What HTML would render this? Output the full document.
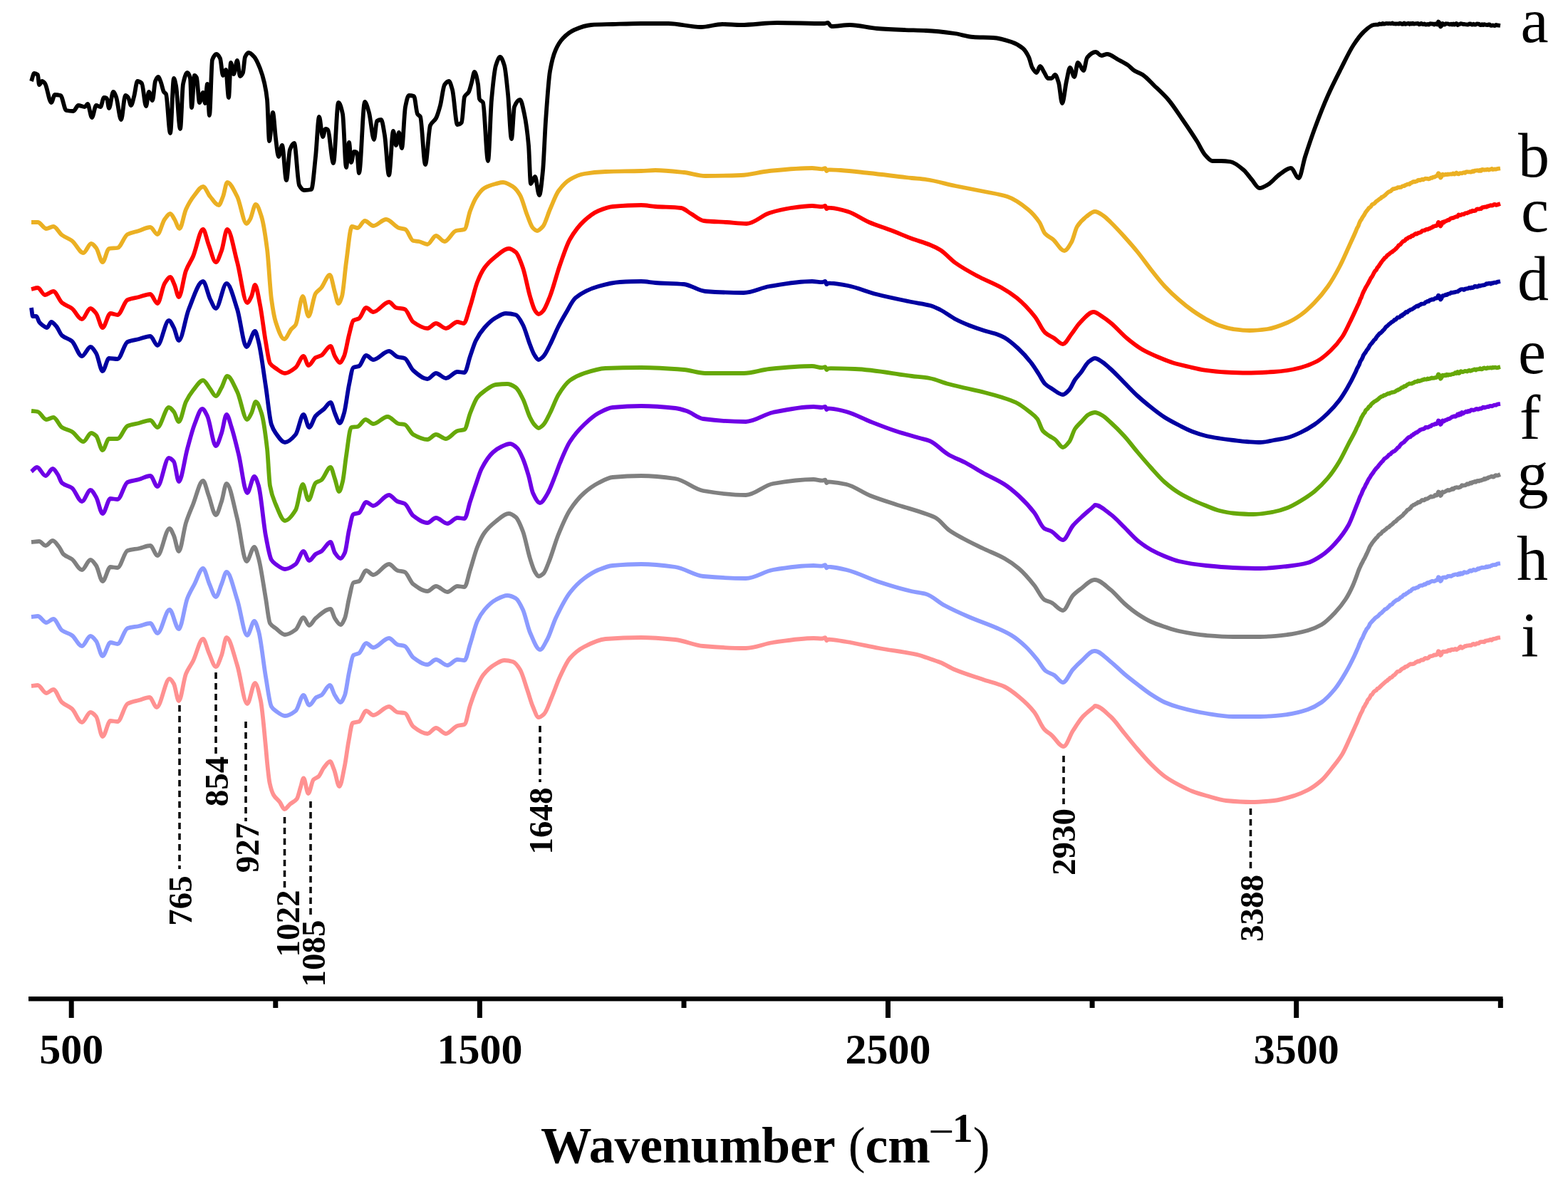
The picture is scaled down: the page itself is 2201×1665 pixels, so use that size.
<!DOCTYPE html>
<html><head><meta charset="utf-8"><title>FTIR spectra</title>
<style>
html,body{margin:0;padding:0;background:#fff;}
body{width:2201px;height:1665px;overflow:hidden;}
svg{display:block;}
text{font-family:"Liberation Serif","Times New Roman",serif;fill:#000;}
</style></head>
<body>
<svg width="2201" height="1665" viewBox="0 0 2201 1665">
<rect width="2201" height="1665" fill="#fff"/>
<g fill="none" stroke-width="5.8" stroke-linejoin="round" stroke-linecap="butt">
<path d="M44.0 114.0C45.3 110.3 46.7 103.0 48.0 103.0C49.7 103.0 51.3 103.6 53.0 105.0C53.7 105.6 54.3 119.0 55.0 119.0C56.3 119.0 57.7 114.0 59.0 114.0C60.3 114.0 61.7 115.5 63.0 117.0C66.0 120.3 69.0 144.0 72.0 144.0C73.7 144.0 75.3 133.0 77.0 133.0C79.7 133.0 82.3 133.4 85.0 134.0C87.7 134.6 90.3 154.5 93.0 155.0C96.3 155.7 99.7 156.0 103.0 156.0C105.3 156.0 107.7 148.0 110.0 148.0C113.0 148.0 116.0 150.0 119.0 150.0C120.3 150.0 121.7 146.0 123.0 146.0C125.0 146.0 127.0 165.0 129.0 165.0C131.0 165.0 133.0 148.0 135.0 148.0C137.0 148.0 139.0 150.0 141.0 150.0C142.7 150.0 144.3 137.0 146.0 137.0C147.3 137.0 148.7 137.3 150.0 138.0C151.0 138.5 152.0 152.0 153.0 152.0C155.0 152.0 157.0 129.0 159.0 129.0C160.3 129.0 161.7 132.8 163.0 136.0C165.3 141.7 167.7 168.0 170.0 168.0C172.0 168.0 174.0 134.0 176.0 134.0C177.3 134.0 178.7 135.4 180.0 137.0C181.3 138.6 182.7 148.0 184.0 148.0C185.3 148.0 186.7 140.7 188.0 136.0C189.7 130.1 191.3 114.0 193.0 114.0C195.0 114.0 197.0 115.2 199.0 117.0C201.0 118.8 203.0 149.0 205.0 149.0C206.3 149.0 207.7 129.0 209.0 129.0C210.7 129.0 212.3 141.0 214.0 141.0C215.3 141.0 216.7 117.3 218.0 114.0C219.3 110.7 220.7 108.0 222.0 108.0C223.3 108.0 224.7 112.7 226.0 116.0C227.3 119.3 228.7 127.0 230.0 129.0C231.0 130.5 232.0 130.3 233.0 132.0C235.0 135.3 237.0 187.0 239.0 187.0C240.7 187.0 242.3 110.0 244.0 110.0C245.0 110.0 246.0 115.2 247.0 120.0C249.0 129.5 251.0 181.0 253.0 181.0C254.3 181.0 255.7 124.4 257.0 118.0C259.0 108.4 261.0 102.0 263.0 102.0C264.3 102.0 265.7 104.7 267.0 110.0C267.7 112.7 268.3 151.0 269.0 151.0C270.3 151.0 271.7 106.0 273.0 106.0C274.0 106.0 275.0 107.3 276.0 109.0C277.3 111.3 278.7 144.0 280.0 144.0C281.7 144.0 283.3 130.0 285.0 130.0C286.0 130.0 287.0 145.0 288.0 145.0C289.0 145.0 290.0 118.0 291.0 118.0C292.0 118.0 293.0 162.0 294.0 162.0C295.3 162.0 296.7 87.5 298.0 84.0C300.0 78.7 302.0 76.0 304.0 76.0C305.7 76.0 307.3 78.6 309.0 82.0C310.3 84.7 311.7 106.0 313.0 106.0C314.3 106.0 315.7 98.0 317.0 98.0C318.3 98.0 319.7 137.0 321.0 137.0C322.0 137.0 323.0 88.0 324.0 88.0C325.3 88.0 326.7 104.0 328.0 104.0C329.7 104.0 331.3 85.0 333.0 85.0C334.3 85.0 335.7 107.0 337.0 107.0C338.3 107.0 339.7 104.9 341.0 102.0C342.0 99.8 343.0 82.2 344.0 80.0C345.7 76.3 347.3 74.0 349.0 74.0C351.7 74.0 354.3 77.1 357.0 80.0C359.7 82.9 362.3 89.3 365.0 96.0C367.0 101.1 369.0 107.3 371.0 116.0C372.3 121.8 373.7 127.5 375.0 140.0C376.0 149.4 377.0 198.0 378.0 198.0C379.7 198.0 381.3 158.0 383.0 158.0C384.3 158.0 385.7 183.9 387.0 194.0C388.3 204.1 389.7 220.0 391.0 220.0C392.7 220.0 394.3 204.0 396.0 204.0C398.0 204.0 400.0 253.0 402.0 253.0C403.7 253.0 405.3 214.4 407.0 210.0C409.0 204.8 411.0 201.0 413.0 201.0C415.3 201.0 417.7 255.8 420.0 260.0C422.3 264.2 424.7 267.0 427.0 267.0C430.3 267.0 433.7 266.7 437.0 266.0C439.0 265.6 441.0 238.3 443.0 220.0C444.7 204.7 446.3 164.0 448.0 164.0C449.7 164.0 451.3 192.0 453.0 192.0C454.3 192.0 455.7 181.0 457.0 181.0C458.0 181.0 459.0 181.4 460.0 182.0C462.7 183.5 465.3 229.0 468.0 229.0C470.3 229.0 472.7 144.0 475.0 144.0C477.0 144.0 479.0 150.7 481.0 160.0C482.7 167.7 484.3 235.0 486.0 235.0C487.3 235.0 488.7 200.0 490.0 200.0C491.0 200.0 492.0 228.0 493.0 228.0C494.3 228.0 495.7 213.0 497.0 213.0C498.3 213.0 499.7 213.3 501.0 214.0C502.0 214.5 503.0 243.0 504.0 243.0C506.7 243.0 509.3 143.0 512.0 143.0C514.0 143.0 516.0 151.2 518.0 158.0C520.3 165.9 522.7 196.0 525.0 196.0C526.3 196.0 527.7 170.9 529.0 170.0C531.0 168.7 533.0 168.0 535.0 168.0C536.7 168.0 538.3 180.1 540.0 190.0C542.0 201.8 544.0 246.0 546.0 246.0C548.0 246.0 550.0 184.0 552.0 184.0C553.3 184.0 554.7 204.0 556.0 204.0C557.3 204.0 558.7 186.0 560.0 186.0C561.3 186.0 562.7 208.0 564.0 208.0C565.7 208.0 567.3 158.4 569.0 150.0C570.7 141.6 572.3 134.0 574.0 134.0C576.3 134.0 578.7 134.3 581.0 135.0C582.7 135.5 584.3 157.3 586.0 160.0C587.3 162.2 588.7 161.8 590.0 164.0C592.3 167.9 594.7 231.0 597.0 231.0C599.3 231.0 601.7 181.1 604.0 176.0C606.7 170.2 609.3 170.8 612.0 166.0C614.0 162.4 616.0 155.4 618.0 148.0C620.0 140.6 622.0 121.8 624.0 119.0C626.0 116.2 628.0 114.0 630.0 114.0C631.7 114.0 633.3 120.2 635.0 126.0C637.3 134.1 639.7 175.0 642.0 175.0C644.0 175.0 646.0 174.0 648.0 172.0C649.3 170.7 650.7 138.9 652.0 136.0C654.0 131.6 656.0 132.5 658.0 129.0C659.3 126.6 660.7 120.6 662.0 116.0C663.3 111.4 664.7 101.0 666.0 101.0C667.7 101.0 669.3 108.8 671.0 118.0C671.7 121.7 672.3 137.6 673.0 139.0C674.7 142.5 676.3 141.1 678.0 144.0C680.3 148.1 682.7 226.0 685.0 226.0C686.7 226.0 688.3 158.4 690.0 140.0C692.0 117.9 694.0 98.4 696.0 92.0C698.0 85.6 700.0 80.0 702.0 80.0C704.0 80.0 706.0 85.5 708.0 92.0C709.7 97.4 711.3 115.7 713.0 132.0C714.7 148.3 716.3 195.0 718.0 195.0C719.3 195.0 720.7 153.3 722.0 150.0C724.7 143.4 727.3 140.0 730.0 140.0C732.0 140.0 734.0 150.8 736.0 160.0C738.0 169.2 740.0 182.1 742.0 204.0C743.0 214.9 744.0 258.0 745.0 258.0C747.0 258.0 749.0 248.0 751.0 248.0C753.0 248.0 755.0 274.0 757.0 274.0C758.7 274.0 760.3 256.6 762.0 240.0C763.3 226.7 764.7 188.9 766.0 170.0C768.0 141.6 770.0 111.6 772.0 100.0C774.7 84.5 777.3 76.1 780.0 70.0C783.3 62.4 786.7 57.5 790.0 54.0C795.3 48.4 800.7 44.3 806.0 42.0C814.0 38.5 822.0 35.5 830.0 35.0C840.0 34.4 850.0 34.3 860.0 34.0C873.3 33.6 886.7 33.0 900.0 33.0C912.7 33.0 925.3 33.0 938.0 33.0C953.3 33.0 968.7 38.0 984.0 38.0C994.0 38.0 1004.0 34.0 1014.0 34.0C1022.7 34.0 1031.3 35.0 1040.0 35.0C1057.0 35.0 1074.0 32.0 1091.0 32.0C1113.0 32.0 1135.0 33.0 1157.0 33.0C1158.7 33.0 1160.3 32.0 1162.0 32.0C1163.7 32.0 1165.3 37.0 1167.0 37.0C1175.7 37.0 1184.3 35.0 1193.0 35.0C1205.7 35.0 1218.3 39.0 1231.0 40.0C1243.7 41.0 1256.3 41.5 1269.0 42.0C1279.3 42.4 1289.7 42.5 1300.0 43.0C1313.3 43.6 1326.7 45.2 1340.0 47.0C1348.7 48.2 1357.3 51.5 1366.0 52.0C1375.3 52.6 1384.7 52.4 1394.0 53.0C1402.7 53.5 1411.3 56.1 1420.0 59.0C1425.3 60.8 1430.7 63.4 1436.0 68.0C1438.7 70.3 1441.3 74.5 1444.0 80.0C1445.7 83.4 1447.3 92.2 1449.0 95.0C1451.0 98.4 1453.0 102.0 1455.0 102.0C1456.7 102.0 1458.3 93.0 1460.0 93.0C1462.0 93.0 1464.0 98.9 1466.0 102.0C1467.7 104.6 1469.3 110.0 1471.0 110.0C1472.7 110.0 1474.3 110.0 1476.0 110.0C1477.7 110.0 1479.3 105.0 1481.0 105.0C1482.7 105.0 1484.3 110.7 1486.0 116.0C1487.7 121.3 1489.3 145.0 1491.0 145.0C1493.0 145.0 1495.0 122.7 1497.0 114.0C1498.7 106.7 1500.3 95.0 1502.0 95.0C1504.0 95.0 1506.0 108.0 1508.0 108.0C1509.7 108.0 1511.3 88.0 1513.0 88.0C1515.7 88.0 1518.3 99.0 1521.0 99.0C1522.7 99.0 1524.3 83.1 1526.0 81.0C1530.0 76.0 1534.0 73.0 1538.0 73.0C1540.7 73.0 1543.3 78.0 1546.0 78.0C1548.7 78.0 1551.3 76.0 1554.0 76.0C1559.3 76.0 1564.7 81.2 1570.0 84.0C1574.7 86.5 1579.3 88.7 1584.0 92.0C1586.7 93.9 1589.3 97.3 1592.0 99.0C1596.0 101.6 1600.0 102.4 1604.0 105.0C1609.3 108.4 1614.7 114.8 1620.0 120.0C1626.7 126.4 1633.3 132.2 1640.0 140.0C1646.7 147.8 1653.3 158.3 1660.0 168.0C1666.7 177.7 1673.3 187.4 1680.0 198.0C1684.0 204.3 1688.0 213.7 1692.0 218.0C1695.3 221.6 1698.7 226.0 1702.0 226.0C1706.0 226.0 1710.0 226.0 1714.0 226.0C1718.3 226.0 1722.7 226.4 1727.0 227.0C1733.3 227.8 1739.7 233.6 1746.0 239.0C1749.7 242.1 1753.3 247.8 1757.0 252.0C1760.7 256.2 1764.3 264.0 1768.0 264.0C1772.0 264.0 1776.0 261.2 1780.0 259.0C1785.3 256.0 1790.7 248.7 1796.0 245.0C1801.3 241.3 1806.7 236.0 1812.0 236.0C1815.7 236.0 1819.3 250.0 1823.0 250.0C1826.0 250.0 1829.0 229.4 1832.0 220.0C1836.7 205.4 1841.3 191.6 1846.0 179.0C1852.0 162.8 1858.0 147.5 1864.0 134.0C1870.0 120.5 1876.0 108.8 1882.0 97.0C1888.0 85.2 1894.0 72.1 1900.0 63.0C1904.7 55.9 1909.3 49.3 1914.0 45.0C1918.7 40.7 1923.3 35.8 1928.0 35.0C1930.3 34.6 1932.7 34.8 1935.0 34.3C1935.5 34.2 1936.0 33.3 1936.5 33.3C1937.0 33.3 1937.5 33.9 1938.0 33.9C1938.5 33.9 1939.0 33.9 1939.5 33.9C1940.0 33.9 1940.5 32.9 1941.0 32.9C1941.5 32.9 1942.0 33.7 1942.5 33.7C1943.0 33.7 1943.5 33.6 1944.0 33.5C1944.5 33.4 1945.0 33.0 1945.5 33.0C1946.0 32.9 1946.5 32.9 1947.0 32.9C1947.5 32.9 1948.0 33.2 1948.5 33.2C1949.0 33.2 1949.5 32.9 1950.0 32.9C1950.5 32.9 1951.0 33.1 1951.5 33.1C1952.0 33.1 1952.5 33.1 1953.0 33.1C1953.5 33.1 1954.0 32.5 1954.5 32.5C1955.0 32.5 1955.5 33.3 1956.0 33.3C1956.5 33.3 1957.0 33.3 1957.5 33.3C1958.0 33.3 1958.5 33.5 1959.0 33.5C1959.5 33.5 1960.0 33.5 1960.5 33.4C1961.0 33.4 1961.5 33.3 1962.0 33.3C1962.5 33.3 1963.0 33.5 1963.5 33.5C1964.0 33.5 1964.5 32.6 1965.0 32.6C1965.5 32.6 1966.0 32.9 1966.5 33.1C1967.0 33.4 1967.5 33.8 1968.0 33.8C1968.5 33.9 1969.0 33.9 1969.5 33.9C1970.0 33.9 1970.5 32.4 1971.0 32.4C1971.5 32.4 1972.0 33.9 1972.5 33.9C1973.0 33.9 1973.5 33.6 1974.0 33.5C1974.5 33.4 1975.0 33.3 1975.5 33.2C1976.0 33.0 1976.5 32.7 1977.0 32.7C1977.5 32.7 1978.0 34.0 1978.5 34.0C1979.0 34.0 1979.5 33.0 1980.0 33.0C1980.5 33.0 1981.0 33.6 1981.5 33.6C1982.0 33.6 1982.5 32.7 1983.0 32.7C1983.5 32.7 1984.0 33.6 1984.5 33.6C1985.0 33.6 1985.5 33.4 1986.0 33.3C1986.5 33.3 1987.0 33.3 1987.5 33.2C1988.0 33.2 1988.5 33.1 1989.0 33.0C1989.5 33.0 1990.0 32.8 1990.5 32.8C1991.0 32.8 1991.5 34.3 1992.0 34.3C1992.5 34.3 1993.0 34.1 1993.5 33.9C1994.0 33.7 1994.5 32.9 1995.0 32.9C1995.5 32.9 1996.0 33.7 1996.5 33.9C1997.0 34.1 1997.5 34.2 1998.0 34.2C1998.5 34.2 1999.0 33.3 1999.5 33.3C2000.0 33.3 2000.5 34.6 2001.0 34.6C2001.5 34.6 2002.0 34.5 2002.5 34.4C2003.0 34.4 2003.5 33.9 2004.0 33.9C2004.5 33.9 2005.0 34.7 2005.5 34.7C2006.0 34.7 2006.5 33.6 2007.0 33.4C2007.5 33.3 2008.0 33.2 2008.5 33.2C2009.0 33.2 2009.5 33.7 2010.0 33.7C2010.5 33.7 2011.0 33.4 2011.5 33.4C2012.0 33.4 2012.5 34.7 2013.0 34.7C2013.5 34.7 2014.0 33.3 2014.5 33.3C2015.0 33.3 2015.5 33.6 2016.0 33.7C2016.5 33.9 2017.0 34.6 2017.5 34.6C2018.0 34.6 2018.5 30.5 2019.0 30.5C2019.5 30.5 2020.0 31.2 2020.5 32.0C2021.0 32.8 2021.5 37.5 2022.0 37.5C2022.5 37.5 2023.0 36.7 2023.5 36.0C2024.0 35.3 2024.5 33.0 2025.0 33.0C2025.5 33.0 2026.0 34.1 2026.5 34.3C2027.0 34.4 2027.5 34.6 2028.0 34.6C2028.5 34.6 2029.0 33.2 2029.5 33.2C2030.0 33.2 2030.5 33.4 2031.0 33.4C2031.5 33.4 2032.0 33.4 2032.5 33.4C2033.0 33.4 2033.5 33.8 2034.0 34.0C2034.5 34.1 2035.0 34.3 2035.5 34.3C2036.0 34.3 2036.5 33.6 2037.0 33.6C2037.5 33.6 2038.0 34.6 2038.5 34.6C2039.0 34.6 2039.5 33.3 2040.0 33.3C2040.5 33.3 2041.0 34.7 2041.5 34.7C2042.0 34.7 2042.5 33.8 2043.0 33.5C2043.5 33.3 2044.0 33.0 2044.5 33.0C2045.0 33.0 2045.5 35.3 2046.0 35.3C2046.5 35.3 2047.0 34.6 2047.5 34.4C2048.0 34.2 2048.5 34.1 2049.0 33.9C2049.5 33.7 2050.0 33.2 2050.5 33.2C2051.0 33.2 2051.5 33.4 2052.0 33.5C2052.5 33.6 2053.0 33.7 2053.5 33.8C2054.0 33.9 2054.5 34.0 2055.0 34.0C2055.5 34.0 2056.0 34.0 2056.5 34.1C2057.0 34.1 2057.5 34.3 2058.0 34.4C2058.5 34.4 2059.0 34.5 2059.5 34.5C2060.0 34.6 2060.5 34.7 2061.0 34.7C2061.5 34.7 2062.0 33.4 2062.5 33.4C2063.0 33.4 2063.5 33.4 2064.0 33.5C2064.5 33.5 2065.0 34.4 2065.5 34.5C2066.0 34.5 2066.5 34.5 2067.0 34.5C2067.5 34.5 2068.0 33.6 2068.5 33.6C2069.0 33.6 2069.5 34.7 2070.0 34.7C2070.5 34.7 2071.0 34.7 2071.5 34.7C2072.0 34.7 2072.5 33.4 2073.0 33.4C2073.5 33.4 2074.0 33.5 2074.5 33.6C2075.0 33.6 2075.5 33.6 2076.0 33.6C2076.5 33.6 2077.0 34.9 2077.5 35.0C2078.0 35.0 2078.5 35.0 2079.0 35.0C2079.5 35.0 2080.0 34.1 2080.5 34.1C2081.0 34.1 2081.5 35.2 2082.0 35.2C2082.5 35.2 2083.0 34.2 2083.5 34.2C2084.0 34.2 2084.5 34.6 2085.0 34.7C2085.5 34.8 2086.0 34.8 2086.5 34.9C2087.0 35.0 2087.5 35.1 2088.0 35.1C2088.5 35.1 2089.0 34.4 2089.5 34.4C2090.0 34.4 2090.5 34.4 2091.0 34.4C2091.5 34.4 2092.0 35.9 2092.5 35.9C2093.0 35.9 2093.5 35.8 2094.0 35.8C2094.5 35.7 2095.0 35.4 2095.5 35.4C2096.0 35.4 2096.5 35.7 2097.0 35.8C2097.5 35.9 2098.0 36.1 2098.5 36.1C2099.0 36.1 2099.5 34.9 2100.0 34.9C2100.5 34.9 2101.0 35.2 2101.5 35.3C2103.0 35.6 2104.5 35.8 2106.0 36.0" stroke="#000000"/>
<path d="M44.0 312.0C47.0 312.0 50.0 312.0 53.0 312.0C57.0 312.0 61.0 321.0 65.0 321.0C68.3 321.0 71.7 318.0 75.0 318.0C79.0 318.0 83.0 327.1 87.0 330.0C91.7 333.4 96.3 334.6 101.0 338.0C106.3 341.9 111.7 355.0 117.0 355.0C120.7 355.0 124.3 342.0 128.0 342.0C130.3 342.0 132.7 345.2 135.0 348.0C138.0 351.6 141.0 368.0 144.0 368.0C147.0 368.0 150.0 349.5 153.0 349.0C157.0 348.3 161.0 348.6 165.0 348.0C169.7 347.3 174.3 331.4 179.0 329.0C184.3 326.3 189.7 325.7 195.0 324.0C200.3 322.3 205.7 319.0 211.0 319.0C214.3 319.0 217.7 329.0 221.0 329.0C224.3 329.0 227.7 312.5 231.0 308.0C233.7 304.4 236.3 300.0 239.0 300.0C241.0 300.0 243.0 304.9 245.0 308.0C247.3 311.6 249.7 321.0 252.0 321.0C255.0 321.0 258.0 300.5 261.0 294.0C265.0 285.3 269.0 279.0 273.0 274.0C277.0 269.0 281.0 262.0 285.0 262.0C288.3 262.0 291.7 272.1 295.0 276.0C299.0 280.7 303.0 288.0 307.0 288.0C309.0 288.0 311.0 281.0 313.0 276.0C315.0 271.0 317.0 256.0 319.0 256.0C323.7 256.0 328.3 267.0 333.0 276.0C337.3 284.4 341.7 314.0 346.0 314.0C347.7 314.0 349.3 310.7 351.0 308.0C353.7 303.7 356.3 287.0 359.0 287.0C361.7 287.0 364.3 295.7 367.0 304.0C369.7 312.3 372.3 329.1 375.0 350.0C377.0 365.7 379.0 405.4 381.0 420.0C383.0 434.6 385.0 445.9 387.0 452.0C391.0 464.3 395.0 476.0 399.0 476.0C402.3 476.0 405.7 465.8 409.0 462.0C411.0 459.7 413.0 459.0 415.0 456.0C418.3 450.9 421.7 416.0 425.0 416.0C427.7 416.0 430.3 444.0 433.0 444.0C436.3 444.0 439.7 417.0 443.0 412.0C445.7 408.0 448.3 407.2 451.0 404.0C455.0 399.3 459.0 386.0 463.0 386.0C465.3 386.0 467.7 402.3 470.0 410.0C471.7 415.5 473.3 426.0 475.0 426.0C476.7 426.0 478.3 421.2 480.0 416.0C482.0 409.7 484.0 382.1 486.0 368.0C488.7 349.2 491.3 318.0 494.0 318.0C496.7 318.0 499.3 320.0 502.0 320.0C505.3 320.0 508.7 310.0 512.0 310.0C516.0 310.0 520.0 317.0 524.0 317.0C530.0 317.0 536.0 308.0 542.0 308.0C548.0 308.0 554.0 318.1 560.0 320.0C563.0 320.9 566.0 320.9 569.0 322.0C572.7 323.4 576.3 337.2 580.0 338.0C582.7 338.6 585.3 338.5 588.0 339.0C592.0 339.7 596.0 343.0 600.0 343.0C604.0 343.0 608.0 331.0 612.0 331.0C616.0 331.0 620.0 339.0 624.0 339.0C629.3 339.0 634.7 325.5 640.0 324.0C644.0 322.9 648.0 323.3 652.0 322.0C654.7 321.1 657.3 303.1 660.0 296.0C662.7 288.9 665.3 282.2 668.0 278.0C672.0 271.7 676.0 266.3 680.0 264.0C685.3 260.9 690.7 259.4 696.0 258.0C699.3 257.2 702.7 256.0 706.0 256.0C710.7 256.0 715.3 259.0 720.0 262.0C723.3 264.2 726.7 268.4 730.0 274.0C733.3 279.6 736.7 293.7 740.0 302.0C742.7 308.6 745.3 317.3 748.0 320.0C750.0 322.0 752.0 324.0 754.0 324.0C756.7 324.0 759.3 321.0 762.0 318.0C765.3 314.3 768.7 301.6 772.0 294.0C776.0 284.9 780.0 273.6 784.0 268.0C789.3 260.6 794.7 255.1 800.0 252.0C806.7 248.1 813.3 245.1 820.0 244.0C830.0 242.3 840.0 241.4 850.0 241.0C866.7 240.4 883.3 240.5 900.0 240.0C906.7 239.8 913.3 239.0 920.0 239.0C933.3 239.0 946.7 240.6 960.0 242.0C970.0 243.1 980.0 247.0 990.0 247.0C1006.7 247.0 1023.3 246.6 1040.0 246.0C1053.3 245.5 1066.7 241.3 1080.0 240.0C1100.0 238.1 1120.0 236.0 1140.0 236.0C1144.7 236.0 1149.3 237.4 1154.0 237.4C1155.4 237.4 1156.9 236.1 1158.3 236.1C1159.0 236.1 1159.6 240.2 1160.3 240.2C1161.0 240.2 1161.8 238.5 1162.5 238.5C1163.7 238.4 1164.8 238.3 1166.0 238.3C1170.7 238.3 1175.3 238.7 1180.0 239.0C1193.3 239.8 1206.7 241.6 1220.0 243.0C1240.0 245.1 1260.0 247.9 1280.0 250.0C1286.7 250.7 1293.3 251.1 1300.0 252.0C1313.7 253.8 1327.3 258.2 1341.0 261.0C1354.7 263.8 1368.3 266.2 1382.0 269.0C1392.7 271.2 1403.3 272.5 1414.0 276.0C1423.7 279.2 1433.3 286.0 1443.0 294.0C1448.3 298.4 1453.7 304.1 1459.0 312.0C1461.7 316.0 1464.3 325.1 1467.0 328.0C1470.7 332.0 1474.3 332.9 1478.0 336.0C1483.3 340.4 1488.7 352.0 1494.0 352.0C1497.3 352.0 1500.7 345.7 1504.0 340.0C1506.7 335.5 1509.3 322.3 1512.0 318.0C1516.3 311.1 1520.7 307.3 1525.0 304.0C1529.0 301.0 1533.0 297.0 1537.0 297.0C1541.0 297.0 1545.0 300.4 1549.0 303.0C1552.3 305.2 1555.7 308.8 1559.0 312.0C1565.3 318.1 1571.7 325.0 1578.0 332.0C1584.3 339.0 1590.7 346.2 1597.0 354.0C1603.3 361.8 1609.7 371.0 1616.0 379.0C1622.3 387.0 1628.7 395.3 1635.0 402.0C1641.7 409.1 1648.3 415.3 1655.0 421.0C1661.3 426.5 1667.7 431.6 1674.0 436.0C1680.3 440.4 1686.7 444.6 1693.0 448.0C1699.3 451.4 1705.7 454.9 1712.0 457.0C1718.3 459.1 1724.7 461.2 1731.0 462.0C1738.7 463.0 1746.3 464.0 1754.0 464.0C1762.3 464.0 1770.7 463.1 1779.0 462.0C1788.3 460.8 1797.7 456.9 1807.0 453.0C1813.3 450.3 1819.7 446.5 1826.0 442.0C1832.3 437.5 1838.7 431.5 1845.0 425.0C1851.3 418.5 1857.7 411.0 1864.0 402.0C1869.3 394.4 1874.7 385.1 1880.0 375.0C1884.7 366.2 1889.3 355.2 1894.0 345.0C1897.0 338.4 1900.0 332.0 1903.0 325.0C1903.7 323.4 1904.3 321.5 1905.0 320.2C1905.5 319.2 1906.0 318.7 1906.5 317.6C1907.0 316.6 1907.5 314.7 1908.0 313.5C1908.5 312.3 1909.0 311.1 1909.5 310.2C1910.0 309.3 1910.5 308.8 1911.0 308.0C1911.5 307.1 1912.0 306.0 1912.5 305.2C1913.0 304.4 1913.5 303.8 1914.0 303.1C1914.5 302.3 1915.0 301.5 1915.5 300.6C1916.0 299.8 1916.5 298.7 1917.0 297.9C1917.5 297.2 1918.0 296.6 1918.5 295.9C1919.0 295.3 1919.5 294.8 1920.0 294.1C1920.5 293.5 1921.0 292.5 1921.5 292.1C1922.0 291.7 1922.5 291.5 1923.0 291.1C1923.5 290.7 1924.0 290.3 1924.5 289.6C1925.0 289.0 1925.5 287.6 1926.0 287.2C1926.5 286.8 1927.0 286.7 1927.5 286.4C1928.0 286.2 1928.5 286.0 1929.0 285.7C1929.5 285.3 1930.0 284.7 1930.5 284.2C1931.0 283.7 1931.5 282.9 1932.0 282.6C1932.5 282.2 1933.0 282.0 1933.5 281.7C1934.0 281.4 1934.5 280.9 1935.0 280.5C1935.5 280.1 1936.0 279.6 1936.5 279.3C1937.0 279.0 1937.5 278.9 1938.0 278.6C1938.5 278.2 1939.0 277.1 1939.5 276.8C1940.0 276.6 1940.5 276.5 1941.0 276.3C1941.5 276.1 1942.0 275.7 1942.5 275.3C1943.0 275.0 1943.5 274.7 1944.0 274.3C1944.5 273.9 1945.0 273.3 1945.5 272.7C1946.0 272.2 1946.5 271.7 1947.0 271.2C1947.5 270.8 1948.0 270.3 1948.5 269.9C1949.0 269.6 1949.5 269.1 1950.0 269.0C1950.5 268.8 1951.0 268.8 1951.5 268.6C1952.0 268.4 1952.5 267.9 1953.0 267.4C1953.5 267.0 1954.0 266.3 1954.5 266.0C1955.0 265.7 1955.5 265.3 1956.0 265.2C1956.5 265.1 1957.0 265.1 1957.5 265.0C1958.0 265.0 1958.5 264.3 1959.0 264.3C1959.5 264.3 1960.0 264.3 1960.5 264.3C1961.0 264.3 1961.5 263.3 1962.0 263.2C1962.5 263.2 1963.0 263.2 1963.5 263.2C1964.0 263.1 1964.5 263.0 1965.0 263.0C1965.5 262.9 1966.0 262.9 1966.5 262.9C1967.0 262.8 1967.5 262.0 1968.0 261.7C1968.5 261.5 1969.0 261.1 1969.5 261.1C1970.0 261.1 1970.5 261.2 1971.0 261.2C1971.5 261.2 1972.0 260.2 1972.5 260.0C1973.0 259.8 1973.5 259.7 1974.0 259.5C1974.5 259.4 1975.0 258.9 1975.5 258.7C1976.0 258.5 1976.5 258.4 1977.0 258.4C1977.5 258.4 1978.0 258.8 1978.5 258.8C1979.0 258.8 1979.5 257.0 1980.0 256.9C1980.5 256.8 1981.0 256.8 1981.5 256.7C1982.0 256.6 1982.5 255.6 1983.0 255.4C1983.5 255.2 1984.0 255.0 1984.5 255.0C1985.0 255.0 1985.5 255.4 1986.0 255.4C1986.5 255.4 1987.0 254.8 1987.5 254.7C1988.0 254.5 1988.5 254.5 1989.0 254.3C1989.5 254.2 1990.0 253.1 1990.5 252.9C1991.0 252.7 1991.5 252.6 1992.0 252.6C1992.5 252.6 1993.0 253.2 1993.5 253.2C1994.0 253.2 1994.5 252.5 1995.0 252.2C1995.5 252.0 1996.0 251.7 1996.5 251.7C1997.0 251.7 1997.5 252.4 1998.0 252.4C1998.5 252.4 1999.0 251.6 1999.5 251.3C2000.0 251.0 2000.5 250.6 2001.0 250.6C2001.5 250.6 2002.0 250.7 2002.5 250.8C2003.0 250.8 2003.5 250.8 2004.0 250.8C2004.5 250.9 2005.0 251.3 2005.5 251.3C2006.0 251.3 2006.5 251.1 2007.0 250.9C2007.5 250.7 2008.0 249.6 2008.5 249.6C2009.0 249.6 2009.5 249.8 2010.0 249.8C2010.5 249.8 2011.0 248.7 2011.5 248.7C2012.0 248.6 2012.5 248.7 2013.0 248.6C2013.5 248.6 2014.0 248.3 2014.5 248.1C2015.0 247.9 2015.5 247.3 2016.0 247.1C2016.5 246.9 2017.0 246.9 2017.5 246.7C2018.0 246.4 2018.5 243.1 2019.0 243.1C2019.5 243.1 2020.0 243.7 2020.5 244.3C2021.0 244.9 2021.5 249.5 2022.0 249.5C2022.5 249.5 2023.0 248.5 2023.5 247.8C2024.0 247.0 2024.5 244.6 2025.0 244.6C2025.5 244.6 2026.0 245.6 2026.5 245.6C2027.0 245.6 2027.5 245.5 2028.0 245.5C2028.5 245.4 2029.0 244.7 2029.5 244.7C2030.0 244.7 2030.5 245.2 2031.0 245.2C2031.5 245.2 2032.0 244.5 2032.5 244.5C2033.0 244.5 2033.5 244.9 2034.0 244.9C2034.5 244.9 2035.0 244.3 2035.5 244.3C2036.0 244.3 2036.5 244.5 2037.0 244.5C2037.5 244.5 2038.0 244.5 2038.5 244.4C2039.0 244.4 2039.5 243.4 2040.0 243.4C2040.5 243.4 2041.0 244.7 2041.5 244.7C2042.0 244.7 2042.5 244.0 2043.0 243.6C2043.5 243.2 2044.0 242.3 2044.5 242.3C2045.0 242.3 2045.5 244.2 2046.0 244.2C2046.5 244.3 2047.0 244.3 2047.5 244.3C2048.0 244.3 2048.5 243.2 2049.0 243.2C2049.5 243.1 2050.0 243.1 2050.5 243.1C2051.0 243.1 2051.5 243.4 2052.0 243.4C2052.5 243.4 2053.0 242.8 2053.5 242.6C2054.0 242.4 2054.5 242.1 2055.0 242.1C2055.5 242.1 2056.0 242.8 2056.5 242.8C2057.0 242.8 2057.5 241.5 2058.0 241.4C2058.5 241.3 2059.0 241.2 2059.5 241.2C2060.0 241.2 2060.5 241.4 2061.0 241.4C2061.5 241.4 2062.0 241.3 2062.5 241.3C2063.0 241.3 2063.5 241.5 2064.0 241.5C2064.5 241.5 2065.0 241.4 2065.5 241.3C2066.0 241.3 2066.5 240.2 2067.0 240.2C2067.5 240.2 2068.0 240.9 2068.5 240.9C2069.0 240.9 2069.5 239.8 2070.0 239.7C2070.5 239.6 2071.0 239.6 2071.5 239.5C2072.0 239.5 2072.5 239.3 2073.0 239.3C2073.5 239.2 2074.0 239.2 2074.5 239.2C2075.0 239.2 2075.5 239.9 2076.0 239.9C2076.5 239.9 2077.0 238.7 2077.5 238.7C2078.0 238.7 2078.5 239.8 2079.0 239.8C2079.5 239.8 2080.0 237.9 2080.5 237.9C2081.0 237.9 2081.5 238.0 2082.0 238.1C2082.5 238.2 2083.0 238.7 2083.5 238.7C2084.0 238.7 2084.5 238.1 2085.0 238.1C2085.5 238.1 2086.0 238.5 2086.5 238.5C2087.0 238.5 2087.5 237.7 2088.0 237.7C2088.5 237.7 2089.0 238.5 2089.5 238.5C2090.0 238.5 2090.5 238.1 2091.0 238.0C2091.5 237.9 2092.0 237.8 2092.5 237.7C2093.0 237.6 2093.5 237.0 2094.0 237.0C2094.5 237.0 2095.0 238.0 2095.5 238.0C2096.0 238.0 2096.5 237.8 2097.0 237.7C2097.5 237.6 2098.0 237.3 2098.5 237.3C2099.0 237.3 2099.5 237.7 2100.0 237.7C2100.5 237.7 2101.0 237.1 2101.5 237.0C2103.0 236.7 2104.5 236.7 2106.0 236.5" stroke="#EBB023"/>
<path d="M44.0 406.0C47.0 405.3 50.0 404.0 53.0 404.0C56.3 404.0 59.7 414.0 63.0 414.0C67.0 414.0 71.0 409.0 75.0 409.0C79.0 409.0 83.0 421.8 87.0 425.0C91.7 428.8 96.3 429.5 101.0 433.0C105.7 436.5 110.3 448.0 115.0 448.0C119.0 448.0 123.0 433.0 127.0 433.0C129.7 433.0 132.3 436.7 135.0 440.0C138.0 443.7 141.0 460.0 144.0 460.0C147.7 460.0 151.3 440.0 155.0 440.0C158.3 440.0 161.7 442.0 165.0 442.0C169.7 442.0 174.3 423.0 179.0 421.0C184.3 418.7 189.7 418.3 195.0 417.0C200.3 415.7 205.7 413.0 211.0 413.0C214.3 413.0 217.7 426.0 221.0 426.0C224.3 426.0 227.7 403.3 231.0 398.0C233.7 393.8 236.3 389.0 239.0 389.0C241.0 389.0 243.0 395.5 245.0 400.0C247.0 404.5 249.0 417.0 251.0 417.0C254.3 417.0 257.7 388.7 261.0 380.0C264.3 371.3 267.7 367.6 271.0 360.0C275.7 349.3 280.3 322.0 285.0 322.0C287.7 322.0 290.3 337.1 293.0 344.0C296.3 352.6 299.7 368.0 303.0 368.0C305.7 368.0 308.3 359.0 311.0 352.0C313.7 345.0 316.3 322.0 319.0 322.0C323.7 322.0 328.3 351.0 333.0 368.0C337.7 385.0 342.3 425.0 347.0 425.0C349.0 425.0 351.0 420.1 353.0 416.0C354.7 412.6 356.3 400.0 358.0 400.0C360.3 400.0 362.7 416.5 365.0 428.0C367.7 441.1 370.3 465.0 373.0 480.0C375.0 491.2 377.0 506.9 379.0 510.0C381.7 514.1 384.3 515.2 387.0 517.0C391.3 519.9 395.7 524.0 400.0 524.0C405.0 524.0 410.0 520.0 415.0 516.0C418.7 513.1 422.3 500.0 426.0 500.0C428.3 500.0 430.7 513.0 433.0 513.0C436.3 513.0 439.7 503.8 443.0 502.0C445.7 500.5 448.3 500.4 451.0 499.0C455.3 496.7 459.7 486.0 464.0 486.0C466.0 486.0 468.0 496.7 470.0 500.0C472.3 503.9 474.7 509.0 477.0 509.0C479.0 509.0 481.0 504.4 483.0 500.0C485.3 494.9 487.7 478.7 490.0 470.0C492.0 462.5 494.0 451.4 496.0 450.0C498.7 448.1 501.3 448.6 504.0 447.0C507.3 445.0 510.7 432.0 514.0 432.0C517.3 432.0 520.7 438.0 524.0 438.0C531.3 438.0 538.7 424.0 546.0 424.0C549.3 424.0 552.7 431.1 556.0 432.0C560.0 433.1 564.0 432.8 568.0 434.0C572.0 435.2 576.0 449.1 580.0 452.0C586.7 456.8 593.3 461.0 600.0 461.0C604.0 461.0 608.0 454.0 612.0 454.0C616.7 454.0 621.3 461.0 626.0 461.0C631.3 461.0 636.7 452.0 642.0 452.0C645.0 452.0 648.0 454.0 651.0 454.0C654.0 454.0 657.0 438.9 660.0 430.0C663.3 420.1 666.7 404.4 670.0 396.0C673.3 387.6 676.7 380.6 680.0 376.0C685.3 368.7 690.7 364.1 696.0 360.0C702.0 355.4 708.0 349.0 714.0 349.0C717.3 349.0 720.7 351.3 724.0 354.0C727.3 356.7 730.7 366.5 734.0 376.0C737.3 385.5 740.7 405.0 744.0 416.0C746.3 423.7 748.7 432.6 751.0 436.0C752.7 438.4 754.3 441.0 756.0 441.0C758.0 441.0 760.0 438.9 762.0 437.0C765.3 433.8 768.7 424.3 772.0 416.0C776.7 404.4 781.3 385.2 786.0 372.0C790.7 358.8 795.3 344.2 800.0 336.0C806.7 324.3 813.3 316.1 820.0 310.0C826.7 303.9 833.3 298.8 840.0 296.0C846.7 293.2 853.3 290.6 860.0 290.0C873.3 288.8 886.7 288.0 900.0 288.0C906.7 288.0 913.3 289.5 920.0 290.0C932.0 290.9 944.0 290.6 956.0 292.0C960.7 292.5 965.3 297.4 970.0 300.0C976.0 303.4 982.0 309.3 988.0 310.0C998.7 311.3 1009.3 311.3 1020.0 312.0C1029.3 312.6 1038.7 314.0 1048.0 314.0C1058.7 314.0 1069.3 302.3 1080.0 299.0C1090.0 295.9 1100.0 293.4 1110.0 292.0C1120.0 290.6 1130.0 289.0 1140.0 289.0C1144.7 289.0 1149.3 290.2 1154.0 290.2C1155.4 290.2 1156.9 289.0 1158.3 289.0C1159.0 289.0 1159.6 293.2 1160.3 293.2C1161.0 293.2 1161.8 291.6 1162.5 291.6C1163.7 291.6 1164.8 291.8 1166.0 291.9C1174.0 292.5 1182.0 294.6 1190.0 297.0C1200.0 300.0 1210.0 307.8 1220.0 312.0C1230.0 316.2 1240.0 319.2 1250.0 323.0C1260.0 326.8 1270.0 331.3 1280.0 335.0C1288.7 338.2 1297.3 340.4 1306.0 344.0C1310.7 345.9 1315.3 348.1 1320.0 351.0C1327.0 355.3 1334.0 364.0 1341.0 369.0C1351.0 376.1 1361.0 381.6 1371.0 387.0C1382.7 393.3 1394.3 397.4 1406.0 404.0C1413.0 408.0 1420.0 412.4 1427.0 418.0C1435.7 425.0 1444.3 433.9 1453.0 445.0C1457.7 451.0 1462.3 462.9 1467.0 467.0C1471.3 470.8 1475.7 472.2 1480.0 475.0C1484.0 477.6 1488.0 483.0 1492.0 483.0C1496.0 483.0 1500.0 474.0 1504.0 469.0C1508.0 464.0 1512.0 457.0 1516.0 453.0C1522.3 446.6 1528.7 438.0 1535.0 438.0C1539.3 438.0 1543.7 442.3 1548.0 445.0C1552.0 447.5 1556.0 450.7 1560.0 454.0C1567.3 460.1 1574.7 468.9 1582.0 475.0C1589.3 481.1 1596.7 486.8 1604.0 491.0C1611.0 495.0 1618.0 498.0 1625.0 501.0C1632.3 504.1 1639.7 507.3 1647.0 509.5C1654.3 511.7 1661.7 513.3 1669.0 515.0C1676.3 516.7 1683.7 518.6 1691.0 519.6C1700.7 520.9 1710.3 522.0 1720.0 522.5C1730.0 523.0 1740.0 523.5 1750.0 523.5C1762.7 523.5 1775.3 522.8 1788.0 522.0C1794.3 521.6 1800.7 520.9 1807.0 520.0C1813.3 519.1 1819.7 517.7 1826.0 516.0C1833.7 513.9 1841.3 511.1 1849.0 507.0C1855.3 503.7 1861.7 498.0 1868.0 492.0C1873.3 486.9 1878.7 480.9 1884.0 473.0C1887.7 467.6 1891.3 459.4 1895.0 452.0C1898.3 445.3 1901.7 437.7 1905.0 430.7C1905.5 429.6 1906.0 428.6 1906.5 427.5C1907.0 426.4 1907.5 425.5 1908.0 424.2C1908.5 423.0 1909.0 421.2 1909.5 420.1C1910.0 418.9 1910.5 418.3 1911.0 417.2C1911.5 416.0 1912.0 414.2 1912.5 413.0C1913.0 411.8 1913.5 410.6 1914.0 409.6C1914.5 408.6 1915.0 407.8 1915.5 406.8C1916.0 405.9 1916.5 404.6 1917.0 403.7C1917.5 402.8 1918.0 402.1 1918.5 401.2C1919.0 400.4 1919.5 399.5 1920.0 398.6C1920.5 397.7 1921.0 396.8 1921.5 395.9C1922.0 394.9 1922.5 393.9 1923.0 392.9C1923.5 392.0 1924.0 390.9 1924.5 390.1C1925.0 389.3 1925.5 388.9 1926.0 388.1C1926.5 387.3 1927.0 386.2 1927.5 385.3C1928.0 384.3 1928.5 383.3 1929.0 382.4C1929.5 381.6 1930.0 380.8 1930.5 380.2C1931.0 379.6 1931.5 379.4 1932.0 378.7C1932.5 378.0 1933.0 376.3 1933.5 375.6C1934.0 374.9 1934.5 374.8 1935.0 374.2C1935.5 373.6 1936.0 372.5 1936.5 371.8C1937.0 371.0 1937.5 370.3 1938.0 369.5C1938.5 368.8 1939.0 368.1 1939.5 367.4C1940.0 366.7 1940.5 366.1 1941.0 365.5C1941.5 364.9 1942.0 364.5 1942.5 363.8C1943.0 363.2 1943.5 362.1 1944.0 361.7C1944.5 361.4 1945.0 361.4 1945.5 361.0C1946.0 360.7 1946.5 359.4 1947.0 358.9C1947.5 358.4 1948.0 358.1 1948.5 357.7C1949.0 357.4 1949.5 357.1 1950.0 356.7C1950.5 356.3 1951.0 355.7 1951.5 355.3C1952.0 354.9 1952.5 354.6 1953.0 354.3C1953.5 353.9 1954.0 353.7 1954.5 353.4C1955.0 353.0 1955.5 352.5 1956.0 352.1C1956.5 351.7 1957.0 351.4 1957.5 351.0C1958.0 350.6 1958.5 350.0 1959.0 349.6C1959.5 349.1 1960.0 348.6 1960.5 348.1C1961.0 347.6 1961.5 347.1 1962.0 346.5C1962.5 345.8 1963.0 344.4 1963.5 344.2C1964.0 344.0 1964.5 344.1 1965.0 343.9C1965.5 343.7 1966.0 342.8 1966.5 342.2C1967.0 341.6 1967.5 340.9 1968.0 340.3C1968.5 339.8 1969.0 339.0 1969.5 338.8C1970.0 338.6 1970.5 338.6 1971.0 338.4C1971.5 338.2 1972.0 337.7 1972.5 337.2C1973.0 336.7 1973.5 335.2 1974.0 335.2C1974.5 335.1 1975.0 335.1 1975.5 335.1C1976.0 335.0 1976.5 333.9 1977.0 333.6C1977.5 333.3 1978.0 332.9 1978.5 332.9C1979.0 332.9 1979.5 333.0 1980.0 333.0C1980.5 333.0 1981.0 330.8 1981.5 330.8C1982.0 330.8 1982.5 331.2 1983.0 331.2C1983.5 331.2 1984.0 330.2 1984.5 329.8C1985.0 329.4 1985.5 329.1 1986.0 328.8C1986.5 328.5 1987.0 327.9 1987.5 327.9C1988.0 327.9 1988.5 328.6 1989.0 328.6C1989.5 328.6 1990.0 327.1 1990.5 327.0C1991.0 326.8 1991.5 326.9 1992.0 326.8C1992.5 326.7 1993.0 326.4 1993.5 326.3C1994.0 326.1 1994.5 326.0 1995.0 325.7C1995.5 325.4 1996.0 324.0 1996.5 323.9C1997.0 323.7 1997.5 323.6 1998.0 323.6C1998.5 323.6 1999.0 323.6 1999.5 323.6C2000.0 323.6 2000.5 322.9 2001.0 322.6C2001.5 322.3 2002.0 321.8 2002.5 321.8C2003.0 321.8 2003.5 322.1 2004.0 322.1C2004.5 322.1 2005.0 321.2 2005.5 321.1C2006.0 321.0 2006.5 321.0 2007.0 320.9C2007.5 320.9 2008.0 319.7 2008.5 319.7C2009.0 319.7 2009.5 319.7 2010.0 319.7C2010.5 319.7 2011.0 318.4 2011.5 318.1C2012.0 317.9 2012.5 317.9 2013.0 317.7C2013.5 317.5 2014.0 317.2 2014.5 317.2C2015.0 317.2 2015.5 317.2 2016.0 317.2C2016.5 317.2 2017.0 316.8 2017.5 316.3C2018.0 315.8 2018.5 311.8 2019.0 311.8C2019.5 311.8 2020.0 312.2 2020.5 312.7C2021.0 313.1 2021.5 317.5 2022.0 317.5C2022.5 317.5 2023.0 316.2 2023.5 315.3C2024.0 314.4 2024.5 311.7 2025.0 311.7C2025.5 311.7 2026.0 312.6 2026.5 312.6C2027.0 312.6 2027.5 311.0 2028.0 310.8C2028.5 310.6 2029.0 310.6 2029.5 310.5C2030.0 310.3 2030.5 310.0 2031.0 309.8C2031.5 309.5 2032.0 308.8 2032.5 308.8C2033.0 308.8 2033.5 309.0 2034.0 309.0C2034.5 309.0 2035.0 307.5 2035.5 307.2C2036.0 306.9 2036.5 306.7 2037.0 306.5C2037.5 306.3 2038.0 306.2 2038.5 306.1C2039.0 306.0 2039.5 306.0 2040.0 305.9C2040.5 305.8 2041.0 305.3 2041.5 305.1C2042.0 304.9 2042.5 304.6 2043.0 304.5C2043.5 304.3 2044.0 304.2 2044.5 304.1C2045.0 304.1 2045.5 304.1 2046.0 304.1C2046.5 304.0 2047.0 301.3 2047.5 301.3C2048.0 301.3 2048.5 302.1 2049.0 302.1C2049.5 302.1 2050.0 302.1 2050.5 302.1C2051.0 302.1 2051.5 300.9 2052.0 300.9C2052.5 300.8 2053.0 300.8 2053.5 300.8C2054.0 300.8 2054.5 300.9 2055.0 300.9C2055.5 300.9 2056.0 299.5 2056.5 299.4C2057.0 299.2 2057.5 299.1 2058.0 299.1C2058.5 299.1 2059.0 299.3 2059.5 299.3C2060.0 299.3 2060.5 298.3 2061.0 298.2C2061.5 298.1 2062.0 298.1 2062.5 298.0C2063.0 297.9 2063.5 296.6 2064.0 296.6C2064.5 296.6 2065.0 297.1 2065.5 297.1C2066.0 297.1 2066.5 295.7 2067.0 295.7C2067.5 295.7 2068.0 296.2 2068.5 296.2C2069.0 296.2 2069.5 296.1 2070.0 295.9C2070.5 295.8 2071.0 295.7 2071.5 295.4C2072.0 295.1 2072.5 293.7 2073.0 293.6C2073.5 293.5 2074.0 293.4 2074.5 293.4C2075.0 293.4 2075.5 293.6 2076.0 293.6C2076.5 293.6 2077.0 293.3 2077.5 293.2C2078.0 293.2 2078.5 293.2 2079.0 293.1C2079.5 293.0 2080.0 291.1 2080.5 291.1C2081.0 291.1 2081.5 291.1 2082.0 291.1C2082.5 291.1 2083.0 290.7 2083.5 290.6C2084.0 290.6 2084.5 290.5 2085.0 290.5C2085.5 290.5 2086.0 290.7 2086.5 290.7C2087.0 290.7 2087.5 289.3 2088.0 289.3C2088.5 289.3 2089.0 289.5 2089.5 289.5C2090.0 289.5 2090.5 289.0 2091.0 288.8C2091.5 288.6 2092.0 288.2 2092.5 288.2C2093.0 288.2 2093.5 288.5 2094.0 288.5C2094.5 288.5 2095.0 288.5 2095.5 288.4C2096.0 288.3 2096.5 287.2 2097.0 287.1C2097.5 287.0 2098.0 286.8 2098.5 286.8C2099.0 286.8 2099.5 287.9 2100.0 287.9C2100.5 287.9 2101.0 287.7 2101.5 287.5C2103.0 287.1 2104.5 286.5 2106.0 286.0" stroke="#FF0000"/>
<path d="M44.0 432.0C44.7 436.0 45.3 444.0 46.0 444.0C47.7 444.0 49.3 444.0 51.0 444.0C52.3 444.0 53.7 450.2 55.0 452.0C56.3 453.8 57.7 455.0 59.0 456.0C61.3 457.7 63.7 460.0 66.0 460.0C68.0 460.0 70.0 452.0 72.0 452.0C74.3 452.0 76.7 455.4 79.0 458.0C81.7 461.0 84.3 468.6 87.0 471.0C91.7 475.1 96.3 475.1 101.0 479.0C105.7 482.9 110.3 500.0 115.0 500.0C119.0 500.0 123.0 487.0 127.0 487.0C129.7 487.0 132.3 491.8 135.0 496.0C138.0 500.8 141.0 521.0 144.0 521.0C147.0 521.0 150.0 503.0 153.0 503.0C157.0 503.0 161.0 504.0 165.0 504.0C169.7 504.0 174.3 482.1 179.0 480.0C184.3 477.6 189.7 477.3 195.0 476.0C200.3 474.7 205.7 472.0 211.0 472.0C214.3 472.0 217.7 485.0 221.0 485.0C226.3 485.0 231.7 450.0 237.0 450.0C239.3 450.0 241.7 455.7 244.0 460.0C246.3 464.3 248.7 478.0 251.0 478.0C255.7 478.0 260.3 445.4 265.0 434.0C271.7 417.7 278.3 395.0 285.0 395.0C288.3 395.0 291.7 413.5 295.0 420.0C297.7 425.2 300.3 433.0 303.0 433.0C308.0 433.0 313.0 398.0 318.0 398.0C323.0 398.0 328.0 418.8 333.0 434.0C337.3 447.2 341.7 487.0 346.0 487.0C350.0 487.0 354.0 465.0 358.0 465.0C359.7 465.0 361.3 473.5 363.0 480.0C366.3 493.0 369.7 520.4 373.0 542.0C375.7 559.3 378.3 588.0 381.0 596.0C383.0 602.0 385.0 605.2 387.0 608.0C391.3 614.0 395.7 621.0 400.0 621.0C405.0 621.0 410.0 615.9 415.0 610.0C418.7 605.7 422.3 582.0 426.0 582.0C428.7 582.0 431.3 600.0 434.0 600.0C437.0 600.0 440.0 587.5 443.0 584.0C447.0 579.4 451.0 577.7 455.0 574.0C458.0 571.3 461.0 565.0 464.0 565.0C466.0 565.0 468.0 575.5 470.0 580.0C472.3 585.2 474.7 594.0 477.0 594.0C479.0 594.0 481.0 586.6 483.0 580.0C485.3 572.4 487.7 550.9 490.0 540.0C492.0 530.6 494.0 517.0 496.0 516.0C498.7 514.7 501.3 515.1 504.0 514.0C507.3 512.6 510.7 499.0 514.0 499.0C517.3 499.0 520.7 505.0 524.0 505.0C531.3 505.0 538.7 493.0 546.0 493.0C550.0 493.0 554.0 499.8 558.0 501.0C561.3 502.0 564.7 501.9 568.0 503.0C572.0 504.4 576.0 516.5 580.0 520.0C586.7 525.8 593.3 532.0 600.0 532.0C604.0 532.0 608.0 524.0 612.0 524.0C616.7 524.0 621.3 531.0 626.0 531.0C631.3 531.0 636.7 522.0 642.0 522.0C645.3 522.0 648.7 523.0 652.0 523.0C654.7 523.0 657.3 507.5 660.0 500.0C662.7 492.5 665.3 483.3 668.0 478.0C672.0 470.1 676.0 464.5 680.0 460.0C685.3 454.0 690.7 449.0 696.0 446.0C700.7 443.3 705.3 440.0 710.0 440.0C714.7 440.0 719.3 440.7 724.0 442.0C727.3 442.9 730.7 449.8 734.0 456.0C737.3 462.2 740.7 475.6 744.0 484.0C746.0 489.1 748.0 494.9 750.0 498.0C752.0 501.1 754.0 505.0 756.0 505.0C758.3 505.0 760.7 502.3 763.0 500.0C766.0 497.0 769.0 489.8 772.0 484.0C776.0 476.2 780.0 465.8 784.0 458.0C787.3 451.5 790.7 445.6 794.0 440.0C798.7 432.1 803.3 421.8 808.0 418.0C818.7 409.3 829.3 405.0 840.0 402.0C850.0 399.2 860.0 396.6 870.0 396.0C880.0 395.4 890.0 395.0 900.0 395.0C906.7 395.0 913.3 396.5 920.0 397.0C933.3 397.9 946.7 397.8 960.0 399.0C970.0 399.9 980.0 408.3 990.0 409.0C1008.0 410.3 1026.0 411.0 1044.0 411.0C1056.0 411.0 1068.0 404.0 1080.0 402.0C1100.0 398.7 1120.0 395.0 1140.0 395.0C1144.7 395.0 1149.3 396.2 1154.0 396.2C1155.4 396.2 1156.9 395.0 1158.3 395.0C1159.0 395.0 1159.6 399.2 1160.3 399.2C1161.0 399.2 1161.8 397.6 1162.5 397.6C1163.7 397.6 1164.8 397.6 1166.0 397.7C1174.0 398.0 1182.0 399.5 1190.0 401.0C1203.3 403.5 1216.7 409.6 1230.0 413.0C1246.7 417.3 1263.3 420.6 1280.0 424.0C1288.7 425.8 1297.3 426.6 1306.0 429.0C1310.7 430.3 1315.3 432.7 1320.0 435.0C1327.3 438.7 1334.7 444.7 1342.0 448.5C1348.3 451.8 1354.7 454.5 1361.0 457.0C1367.7 459.6 1374.3 461.9 1381.0 464.0C1387.3 466.0 1393.7 467.2 1400.0 469.5C1403.3 470.7 1406.7 472.1 1410.0 474.0C1416.3 477.5 1422.7 483.2 1429.0 489.0C1435.3 494.8 1441.7 501.8 1448.0 510.0C1451.3 514.3 1454.7 519.9 1458.0 525.0C1461.0 529.6 1464.0 536.1 1467.0 539.0C1470.3 542.2 1473.7 544.0 1477.0 546.0C1482.0 549.1 1487.0 554.0 1492.0 554.0C1495.0 554.0 1498.0 550.3 1501.0 547.0C1503.7 544.1 1506.3 536.9 1509.0 533.0C1512.0 528.7 1515.0 525.9 1518.0 522.0C1521.3 517.7 1524.7 510.6 1528.0 508.0C1531.0 505.6 1534.0 503.0 1537.0 503.0C1540.3 503.0 1543.7 505.9 1547.0 508.0C1551.0 510.5 1555.0 514.4 1559.0 518.0C1565.3 523.7 1571.7 530.7 1578.0 537.0C1584.3 543.3 1590.7 550.2 1597.0 556.0C1603.3 561.8 1609.7 567.0 1616.0 572.0C1622.3 577.0 1628.7 582.0 1635.0 586.0C1641.7 590.2 1648.3 593.6 1655.0 597.0C1661.3 600.2 1667.7 603.6 1674.0 606.0C1680.3 608.4 1686.7 610.5 1693.0 612.0C1699.3 613.5 1705.7 614.5 1712.0 615.5C1718.3 616.5 1724.7 617.3 1731.0 618.0C1737.3 618.7 1743.7 619.6 1750.0 620.0C1756.3 620.4 1762.7 621.0 1769.0 621.0C1775.3 621.0 1781.7 619.1 1788.0 618.0C1794.3 616.9 1800.7 616.1 1807.0 614.5C1813.3 612.9 1819.7 610.0 1826.0 607.0C1832.3 604.0 1838.7 600.3 1845.0 596.0C1851.3 591.7 1857.7 586.1 1864.0 580.0C1869.3 574.8 1874.7 569.0 1880.0 562.0C1883.7 557.2 1887.3 551.3 1891.0 545.0C1895.0 538.2 1899.0 530.6 1903.0 522.0C1903.7 520.6 1904.3 518.7 1905.0 517.3C1905.5 516.3 1906.0 515.5 1906.5 514.6C1907.0 513.6 1907.5 512.8 1908.0 511.7C1908.5 510.5 1909.0 508.4 1909.5 507.4C1910.0 506.4 1910.5 506.0 1911.0 505.1C1911.5 504.3 1912.0 503.4 1912.5 502.3C1913.0 501.2 1913.5 499.4 1914.0 498.5C1914.5 497.5 1915.0 496.9 1915.5 496.3C1916.0 495.6 1916.5 495.2 1917.0 494.4C1917.5 493.7 1918.0 492.4 1918.5 491.7C1919.0 490.9 1919.5 490.5 1920.0 489.9C1920.5 489.2 1921.0 488.4 1921.5 487.5C1922.0 486.7 1922.5 485.5 1923.0 484.8C1923.5 484.0 1924.0 483.6 1924.5 483.0C1925.0 482.4 1925.5 481.9 1926.0 481.2C1926.5 480.6 1927.0 480.0 1927.5 479.3C1928.0 478.6 1928.5 477.7 1929.0 477.2C1929.5 476.7 1930.0 476.6 1930.5 476.1C1931.0 475.6 1931.5 474.4 1932.0 473.7C1932.5 473.0 1933.0 472.3 1933.5 471.7C1934.0 471.1 1934.5 470.7 1935.0 470.1C1935.5 469.6 1936.0 468.7 1936.5 468.3C1937.0 467.9 1937.5 467.7 1938.0 467.4C1938.5 467.0 1939.0 466.5 1939.5 466.0C1940.0 465.5 1940.5 464.9 1941.0 464.4C1941.5 463.9 1942.0 463.5 1942.5 463.0C1943.0 462.4 1943.5 461.6 1944.0 461.0C1944.5 460.3 1945.0 459.4 1945.5 459.0C1946.0 458.5 1946.5 458.3 1947.0 457.9C1947.5 457.5 1948.0 456.9 1948.5 456.5C1949.0 456.0 1949.5 455.5 1950.0 455.1C1950.5 454.7 1951.0 454.5 1951.5 454.1C1952.0 453.7 1952.5 452.7 1953.0 452.4C1953.5 452.1 1954.0 452.0 1954.5 451.8C1955.0 451.5 1955.5 451.2 1956.0 450.8C1956.5 450.4 1957.0 449.0 1957.5 449.0C1958.0 448.9 1958.5 448.9 1959.0 448.8C1959.5 448.8 1960.0 447.6 1960.5 447.1C1961.0 446.6 1961.5 445.8 1962.0 445.7C1962.5 445.6 1963.0 445.6 1963.5 445.5C1964.0 445.5 1964.5 445.4 1965.0 445.2C1965.5 445.1 1966.0 443.0 1966.5 443.0C1967.0 443.0 1967.5 443.4 1968.0 443.4C1968.5 443.4 1969.0 441.3 1969.5 441.2C1970.0 441.1 1970.5 441.2 1971.0 441.1C1971.5 441.0 1972.0 439.4 1972.5 438.9C1973.0 438.5 1973.5 437.9 1974.0 437.9C1974.5 437.9 1975.0 438.5 1975.5 438.5C1976.0 438.5 1976.5 436.8 1977.0 436.5C1977.5 436.2 1978.0 436.1 1978.5 435.9C1979.0 435.6 1979.5 434.9 1980.0 434.7C1980.5 434.6 1981.0 434.6 1981.5 434.4C1982.0 434.3 1982.5 433.9 1983.0 433.6C1983.5 433.3 1984.0 433.0 1984.5 432.6C1985.0 432.3 1985.5 431.8 1986.0 431.5C1986.5 431.1 1987.0 430.8 1987.5 430.4C1988.0 430.0 1988.5 429.3 1989.0 429.3C1989.5 429.3 1990.0 430.1 1990.5 430.1C1991.0 430.1 1991.5 428.1 1992.0 428.1C1992.5 428.1 1993.0 428.2 1993.5 428.2C1994.0 428.2 1994.5 426.6 1995.0 426.6C1995.5 426.6 1996.0 426.7 1996.5 426.7C1997.0 426.7 1997.5 426.6 1998.0 426.5C1998.5 426.4 1999.0 426.3 1999.5 426.1C2000.0 425.9 2000.5 424.4 2001.0 424.2C2001.5 424.0 2002.0 424.1 2002.5 423.9C2003.0 423.7 2003.5 422.8 2004.0 422.8C2004.5 422.8 2005.0 423.1 2005.5 423.1C2006.0 423.1 2006.5 421.2 2007.0 421.2C2007.5 421.2 2008.0 421.2 2008.5 421.2C2009.0 421.2 2009.5 420.1 2010.0 420.1C2010.5 420.1 2011.0 420.7 2011.5 420.7C2012.0 420.7 2012.5 420.4 2013.0 420.0C2013.5 419.7 2014.0 418.7 2014.5 418.7C2015.0 418.7 2015.5 418.7 2016.0 418.7C2016.5 418.7 2017.0 418.5 2017.5 418.2C2018.0 417.9 2018.5 414.6 2019.0 414.6C2019.5 414.6 2020.0 415.1 2020.5 415.7C2021.0 416.2 2021.5 420.7 2022.0 420.7C2022.5 420.7 2023.0 419.5 2023.5 418.7C2024.0 417.8 2024.5 415.3 2025.0 415.1C2025.5 415.0 2026.0 414.9 2026.5 414.9C2027.0 414.8 2027.5 414.8 2028.0 414.7C2028.5 414.6 2029.0 413.7 2029.5 413.7C2030.0 413.7 2030.5 414.0 2031.0 414.0C2031.5 414.0 2032.0 413.0 2032.5 412.8C2033.0 412.5 2033.5 412.3 2034.0 412.3C2034.5 412.2 2035.0 412.2 2035.5 412.1C2036.0 412.0 2036.5 410.6 2037.0 410.6C2037.5 410.6 2038.0 410.9 2038.5 410.9C2039.0 410.9 2039.5 410.6 2040.0 410.5C2040.5 410.5 2041.0 410.5 2041.5 410.4C2042.0 410.4 2042.5 410.0 2043.0 409.9C2043.5 409.8 2044.0 409.7 2044.5 409.6C2045.0 409.6 2045.5 409.6 2046.0 409.4C2046.5 409.3 2047.0 408.6 2047.5 408.3C2048.0 407.9 2048.5 407.7 2049.0 407.4C2049.5 407.1 2050.0 406.4 2050.5 406.3C2051.0 406.2 2051.5 406.2 2052.0 406.2C2052.5 406.2 2053.0 406.2 2053.5 406.2C2054.0 406.2 2054.5 406.9 2055.0 406.9C2055.5 406.9 2056.0 405.8 2056.5 405.7C2057.0 405.5 2057.5 405.4 2058.0 405.3C2058.5 405.3 2059.0 405.2 2059.5 405.1C2060.0 405.0 2060.5 405.0 2061.0 404.9C2061.5 404.8 2062.0 403.8 2062.5 403.8C2063.0 403.8 2063.5 404.6 2064.0 404.6C2064.5 404.6 2065.0 403.5 2065.5 403.5C2066.0 403.5 2066.5 404.1 2067.0 404.1C2067.5 404.1 2068.0 403.7 2068.5 403.4C2069.0 403.0 2069.5 401.9 2070.0 401.9C2070.5 401.8 2071.0 401.8 2071.5 401.8C2072.0 401.8 2072.5 402.7 2073.0 402.7C2073.5 402.7 2074.0 402.5 2074.5 402.3C2075.0 402.1 2075.5 400.9 2076.0 400.9C2076.5 400.9 2077.0 401.6 2077.5 401.6C2078.0 401.6 2078.5 401.1 2079.0 400.9C2079.5 400.8 2080.0 400.7 2080.5 400.6C2081.0 400.5 2081.5 400.5 2082.0 400.4C2082.5 400.4 2083.0 400.3 2083.5 400.2C2084.0 400.1 2084.5 399.8 2085.0 399.5C2085.5 399.2 2086.0 398.2 2086.5 398.2C2087.0 398.2 2087.5 398.6 2088.0 398.6C2088.5 398.6 2089.0 397.9 2089.5 397.8C2090.0 397.7 2090.5 397.6 2091.0 397.6C2091.5 397.6 2092.0 398.5 2092.5 398.5C2093.0 398.5 2093.5 397.4 2094.0 397.4C2094.5 397.4 2095.0 397.7 2095.5 397.7C2096.0 397.7 2096.5 396.9 2097.0 396.8C2097.5 396.7 2098.0 396.7 2098.5 396.7C2099.0 396.7 2099.5 396.8 2100.0 396.8C2100.5 396.8 2101.0 395.9 2101.5 395.8C2103.0 395.3 2104.5 395.3 2106.0 395.0" stroke="#0000A0"/>
<path d="M44.0 577.0C47.0 577.3 50.0 577.4 53.0 578.0C57.0 578.8 61.0 589.0 65.0 589.0C68.3 589.0 71.7 586.0 75.0 586.0C79.0 586.0 83.0 597.5 87.0 600.0C91.7 603.0 96.3 603.3 101.0 606.0C106.3 609.0 111.7 620.0 117.0 620.0C120.7 620.0 124.3 608.0 128.0 608.0C130.3 608.0 132.7 609.9 135.0 612.0C138.0 614.7 141.0 632.0 144.0 632.0C147.0 632.0 150.0 616.0 153.0 616.0C157.0 616.0 161.0 616.0 165.0 616.0C169.7 616.0 174.3 600.0 179.0 598.0C184.3 595.7 189.7 595.3 195.0 594.0C200.3 592.7 205.7 590.0 211.0 590.0C214.3 590.0 217.7 600.0 221.0 600.0C226.3 600.0 231.7 572.0 237.0 572.0C239.3 572.0 241.7 575.2 244.0 578.0C246.3 580.8 248.7 592.0 251.0 592.0C254.3 592.0 257.7 570.8 261.0 564.0C264.3 557.2 267.7 552.2 271.0 548.0C275.7 542.2 280.3 534.0 285.0 534.0C288.3 534.0 291.7 541.9 295.0 546.0C297.7 549.3 300.3 556.0 303.0 556.0C305.7 556.0 308.3 548.6 311.0 544.0C313.7 539.4 316.3 528.0 319.0 528.0C323.7 528.0 328.3 540.6 333.0 550.0C337.7 559.4 342.3 589.0 347.0 589.0C349.0 589.0 351.0 583.8 353.0 580.0C355.0 576.2 357.0 564.0 359.0 564.0C361.7 564.0 364.3 571.9 367.0 580.0C369.7 588.1 372.3 606.6 375.0 630.0C376.3 641.7 377.7 674.6 379.0 682.0C381.7 696.9 384.3 701.7 387.0 708.0C391.3 718.2 395.7 731.0 400.0 731.0C405.0 731.0 410.0 724.1 415.0 716.0C418.3 710.6 421.7 680.0 425.0 680.0C427.7 680.0 430.3 702.0 433.0 702.0C436.3 702.0 439.7 680.7 443.0 678.0C445.7 675.8 448.3 675.9 451.0 674.0C455.3 670.9 459.7 656.0 464.0 656.0C466.0 656.0 468.0 666.4 470.0 672.0C472.0 677.6 474.0 690.0 476.0 690.0C477.7 690.0 479.3 682.7 481.0 676.0C482.7 669.3 484.3 650.7 486.0 640.0C488.3 625.0 490.7 600.5 493.0 600.0C496.0 599.3 499.0 599.6 502.0 599.0C505.7 598.3 509.3 589.0 513.0 589.0C516.7 589.0 520.3 595.0 524.0 595.0C530.7 595.0 537.3 585.0 544.0 585.0C549.3 585.0 554.7 594.0 560.0 595.0C562.7 595.5 565.3 595.4 568.0 596.0C572.0 596.9 576.0 607.7 580.0 610.0C586.7 613.8 593.3 617.0 600.0 617.0C604.0 617.0 608.0 610.0 612.0 610.0C616.7 610.0 621.3 616.0 626.0 616.0C631.3 616.0 636.7 606.6 642.0 605.0C645.3 604.0 648.7 604.3 652.0 603.0C654.7 602.0 657.3 586.7 660.0 580.0C663.3 571.7 666.7 562.3 670.0 558.0C673.3 553.7 676.7 551.3 680.0 549.0C685.3 545.2 690.7 540.6 696.0 540.0C701.3 539.4 706.7 539.0 712.0 539.0C716.0 539.0 720.0 541.3 724.0 544.0C727.3 546.2 730.7 553.4 734.0 560.0C737.3 566.6 740.7 579.4 744.0 586.0C746.0 590.0 748.0 593.8 750.0 596.0C752.0 598.2 754.0 601.0 756.0 601.0C758.3 601.0 760.7 598.3 763.0 596.0C766.0 593.0 769.0 585.8 772.0 580.0C776.0 572.2 780.0 560.4 784.0 554.0C789.3 545.4 794.7 537.9 800.0 534.0C806.7 529.2 813.3 526.2 820.0 524.0C830.0 520.7 840.0 517.4 850.0 517.0C866.7 516.3 883.3 516.0 900.0 516.0C920.0 516.0 940.0 517.4 960.0 519.0C970.0 519.8 980.0 524.0 990.0 524.0C1008.0 524.0 1026.0 524.0 1044.0 524.0C1056.0 524.0 1068.0 519.2 1080.0 518.0C1100.0 516.0 1120.0 514.0 1140.0 514.0C1144.7 514.0 1149.3 516.2 1154.0 516.2C1155.4 516.2 1156.9 515.1 1158.3 515.1C1159.0 515.1 1159.6 519.2 1160.3 519.2C1161.0 519.2 1161.8 517.5 1162.5 517.4C1163.7 517.3 1164.8 517.2 1166.0 517.2C1177.3 517.2 1188.7 517.6 1200.0 518.0C1226.7 518.9 1253.3 524.7 1280.0 528.0C1288.3 529.0 1296.7 529.6 1305.0 531.0C1313.7 532.5 1322.3 536.7 1331.0 539.0C1339.3 541.2 1347.7 543.0 1356.0 545.0C1364.7 547.0 1373.3 548.8 1382.0 551.0C1390.3 553.1 1398.7 555.3 1407.0 558.0C1413.3 560.0 1419.7 562.0 1426.0 565.0C1432.3 568.0 1438.7 573.0 1445.0 578.0C1448.7 580.9 1452.3 583.2 1456.0 588.0C1458.7 591.5 1461.3 601.9 1464.0 605.0C1467.0 608.4 1470.0 609.9 1473.0 612.0C1475.7 613.8 1478.3 615.0 1481.0 617.0C1484.7 619.8 1488.3 628.0 1492.0 628.0C1495.0 628.0 1498.0 623.9 1501.0 620.0C1503.7 616.6 1506.3 606.0 1509.0 602.0C1512.0 597.5 1515.0 595.2 1518.0 592.0C1521.3 588.5 1524.7 583.7 1528.0 582.0C1531.0 580.5 1534.0 579.0 1537.0 579.0C1540.3 579.0 1543.7 581.2 1547.0 583.0C1551.0 585.1 1555.0 589.4 1559.0 593.0C1565.3 598.7 1571.7 605.1 1578.0 612.0C1584.3 618.9 1590.7 627.5 1597.0 635.0C1603.3 642.5 1609.7 650.0 1616.0 657.0C1622.3 664.0 1628.7 671.4 1635.0 677.0C1641.7 682.8 1648.3 687.9 1655.0 692.0C1661.3 695.9 1667.7 699.0 1674.0 702.0C1680.3 705.0 1686.7 707.5 1693.0 710.0C1699.3 712.5 1705.7 715.4 1712.0 717.0C1718.3 718.6 1724.7 720.0 1731.0 720.5C1740.3 721.3 1749.7 722.0 1759.0 722.0C1768.7 722.0 1778.3 720.2 1788.0 718.5C1794.3 717.4 1800.7 715.4 1807.0 713.0C1813.3 710.6 1819.7 706.8 1826.0 703.0C1832.3 699.2 1838.7 695.1 1845.0 690.0C1851.3 684.9 1857.7 678.5 1864.0 671.0C1869.3 664.7 1874.7 656.8 1880.0 648.0C1884.3 640.8 1888.7 631.3 1893.0 623.0C1896.3 616.6 1899.7 611.0 1903.0 604.0C1903.7 602.6 1904.3 600.8 1905.0 599.5C1905.5 598.5 1906.0 597.8 1906.5 596.8C1907.0 595.8 1907.5 594.5 1908.0 593.3C1908.5 592.2 1909.0 591.2 1909.5 590.0C1910.0 588.8 1910.5 587.4 1911.0 586.4C1911.5 585.4 1912.0 584.7 1912.5 583.8C1913.0 582.9 1913.5 581.8 1914.0 581.1C1914.5 580.4 1915.0 580.1 1915.5 579.4C1916.0 578.6 1916.5 576.9 1917.0 576.2C1917.5 575.6 1918.0 575.2 1918.5 574.7C1919.0 574.3 1919.5 574.1 1920.0 573.5C1920.5 573.0 1921.0 571.2 1921.5 570.9C1922.0 570.6 1922.5 570.6 1923.0 570.3C1923.5 570.0 1924.0 568.6 1924.5 568.0C1925.0 567.3 1925.5 566.8 1926.0 566.4C1926.5 565.9 1927.0 565.6 1927.5 565.2C1928.0 564.8 1928.5 564.2 1929.0 563.9C1929.5 563.6 1930.0 563.4 1930.5 563.1C1931.0 562.8 1931.5 562.6 1932.0 562.2C1932.5 561.9 1933.0 561.5 1933.5 561.2C1934.0 560.8 1934.5 560.5 1935.0 560.1C1935.5 559.6 1936.0 558.8 1936.5 558.4C1937.0 558.0 1937.5 557.8 1938.0 557.5C1938.5 557.2 1939.0 556.3 1939.5 556.3C1940.0 556.3 1940.5 556.4 1941.0 556.4C1941.5 556.4 1942.0 554.9 1942.5 554.8C1943.0 554.8 1943.5 554.8 1944.0 554.8C1944.5 554.8 1945.0 554.4 1945.5 554.1C1946.0 553.9 1946.5 553.6 1947.0 553.3C1947.5 553.1 1948.0 552.5 1948.5 552.5C1949.0 552.5 1949.5 552.7 1950.0 552.7C1950.5 552.7 1951.0 551.6 1951.5 551.5C1952.0 551.3 1952.5 551.3 1953.0 551.2C1953.5 551.1 1954.0 550.6 1954.5 550.6C1955.0 550.6 1955.5 550.7 1956.0 550.7C1956.5 550.7 1957.0 550.4 1957.5 550.1C1958.0 549.9 1958.5 549.7 1959.0 549.3C1959.5 549.0 1960.0 548.3 1960.5 548.1C1961.0 547.9 1961.5 547.9 1962.0 547.7C1962.5 547.5 1963.0 547.0 1963.5 546.8C1964.0 546.6 1964.5 546.5 1965.0 546.3C1965.5 546.0 1966.0 545.3 1966.5 544.9C1967.0 544.6 1967.5 544.2 1968.0 544.0C1968.5 543.9 1969.0 543.9 1969.5 543.8C1970.0 543.7 1970.5 542.2 1971.0 542.2C1971.5 542.2 1972.0 542.3 1972.5 542.3C1973.0 542.3 1973.5 541.6 1974.0 541.2C1974.5 540.8 1975.0 540.2 1975.5 539.9C1976.0 539.6 1976.5 539.5 1977.0 539.3C1977.5 539.0 1978.0 538.5 1978.5 538.5C1979.0 538.5 1979.5 538.6 1980.0 538.6C1980.5 538.6 1981.0 538.6 1981.5 538.6C1982.0 538.6 1982.5 538.1 1983.0 537.8C1983.5 537.6 1984.0 537.5 1984.5 537.3C1985.0 537.0 1985.5 536.1 1986.0 536.0C1986.5 535.9 1987.0 535.9 1987.5 535.9C1988.0 535.9 1988.5 535.9 1989.0 535.8C1989.5 535.7 1990.0 534.5 1990.5 534.5C1991.0 534.5 1991.5 535.2 1992.0 535.2C1992.5 535.2 1993.0 534.3 1993.5 534.3C1994.0 534.3 1994.5 534.4 1995.0 534.4C1995.5 534.4 1996.0 533.1 1996.5 533.1C1997.0 533.1 1997.5 533.4 1998.0 533.4C1998.5 533.4 1999.0 532.1 1999.5 532.1C2000.0 532.1 2000.5 532.6 2001.0 532.6C2001.5 532.6 2002.0 532.6 2002.5 532.6C2003.0 532.6 2003.5 531.5 2004.0 531.5C2004.5 531.5 2005.0 532.0 2005.5 532.0C2006.0 532.0 2006.5 531.8 2007.0 531.7C2007.5 531.5 2008.0 531.2 2008.5 531.0C2009.0 530.8 2009.5 530.3 2010.0 530.3C2010.5 530.3 2011.0 530.8 2011.5 530.8C2012.0 530.8 2012.5 530.8 2013.0 530.7C2013.5 530.7 2014.0 530.1 2014.5 530.1C2015.0 530.1 2015.5 530.2 2016.0 530.2C2016.5 530.2 2017.0 529.7 2017.5 529.1C2018.0 528.5 2018.5 525.4 2019.0 525.4C2019.5 525.4 2020.0 525.9 2020.5 526.6C2021.0 527.3 2021.5 531.8 2022.0 531.8C2022.5 531.8 2023.0 530.8 2023.5 530.0C2024.0 529.2 2024.5 526.7 2025.0 526.7C2025.5 526.7 2026.0 527.6 2026.5 527.6C2027.0 527.6 2027.5 526.4 2028.0 526.4C2028.5 526.4 2029.0 527.4 2029.5 527.4C2030.0 527.4 2030.5 525.6 2031.0 525.6C2031.5 525.6 2032.0 526.8 2032.5 526.8C2033.0 526.8 2033.5 526.0 2034.0 526.0C2034.5 526.0 2035.0 526.2 2035.5 526.2C2036.0 526.2 2036.5 526.0 2037.0 525.9C2037.5 525.7 2038.0 525.2 2038.5 525.2C2039.0 525.2 2039.5 525.2 2040.0 525.2C2040.5 525.1 2041.0 524.6 2041.5 524.3C2042.0 524.0 2042.5 523.2 2043.0 523.2C2043.5 523.2 2044.0 524.3 2044.5 524.3C2045.0 524.3 2045.5 522.0 2046.0 522.0C2046.5 522.0 2047.0 524.2 2047.5 524.2C2048.0 524.2 2048.5 523.8 2049.0 523.4C2049.5 523.0 2050.0 521.1 2050.5 521.1C2051.0 521.1 2051.5 521.5 2052.0 521.7C2052.5 521.9 2053.0 522.3 2053.5 522.3C2054.0 522.3 2054.5 521.8 2055.0 521.6C2055.5 521.3 2056.0 520.8 2056.5 520.8C2057.0 520.8 2057.5 521.1 2058.0 521.2C2058.5 521.3 2059.0 521.5 2059.5 521.5C2060.0 521.5 2060.5 520.6 2061.0 520.4C2061.5 520.2 2062.0 519.9 2062.5 519.9C2063.0 519.9 2063.5 520.8 2064.0 520.8C2064.5 520.8 2065.0 520.5 2065.5 520.4C2066.0 520.2 2066.5 519.7 2067.0 519.5C2067.5 519.3 2068.0 519.2 2068.5 519.1C2069.0 518.9 2069.5 518.3 2070.0 518.3C2070.5 518.3 2071.0 519.5 2071.5 519.5C2072.0 519.5 2072.5 518.4 2073.0 518.4C2073.5 518.4 2074.0 518.4 2074.5 518.4C2075.0 518.4 2075.5 518.4 2076.0 518.4C2076.5 518.4 2077.0 517.2 2077.5 517.2C2078.0 517.2 2078.5 518.2 2079.0 518.3C2079.5 518.3 2080.0 518.4 2080.5 518.4C2081.0 518.4 2081.5 517.2 2082.0 516.9C2082.5 516.7 2083.0 516.4 2083.5 516.4C2084.0 516.4 2084.5 517.2 2085.0 517.2C2085.5 517.2 2086.0 517.3 2086.5 517.3C2087.0 517.3 2087.5 516.2 2088.0 516.2C2088.5 516.2 2089.0 516.7 2089.5 516.7C2090.0 516.7 2090.5 516.5 2091.0 516.4C2091.5 516.3 2092.0 516.2 2092.5 516.2C2093.0 516.2 2093.5 516.7 2094.0 516.7C2094.5 516.7 2095.0 515.6 2095.5 515.6C2096.0 515.6 2096.5 516.1 2097.0 516.1C2097.5 516.1 2098.0 515.7 2098.5 515.7C2099.0 515.7 2099.5 515.9 2100.0 516.0C2100.5 516.1 2101.0 516.3 2101.5 516.3C2103.0 516.3 2104.5 515.4 2106.0 515.0" stroke="#66A808"/>
<path d="M44.0 662.0C46.7 660.0 49.3 656.0 52.0 656.0C56.0 656.0 60.0 668.0 64.0 668.0C67.3 668.0 70.7 658.0 74.0 658.0C76.3 658.0 78.7 662.6 81.0 666.0C83.0 668.9 85.0 676.3 87.0 678.0C91.7 682.1 96.3 681.6 101.0 685.0C105.7 688.4 110.3 704.0 115.0 704.0C119.0 704.0 123.0 688.0 127.0 688.0C129.7 688.0 132.3 693.6 135.0 698.0C138.0 703.0 141.0 721.0 144.0 721.0C147.7 721.0 151.3 700.0 155.0 700.0C158.3 700.0 161.7 701.0 165.0 701.0C169.7 701.0 174.3 679.1 179.0 677.0C184.3 674.6 189.7 674.5 195.0 673.0C200.3 671.5 205.7 668.0 211.0 668.0C214.3 668.0 217.7 683.0 221.0 683.0C226.3 683.0 231.7 643.0 237.0 643.0C239.3 643.0 241.7 645.2 244.0 648.0C246.3 650.8 248.7 676.0 251.0 676.0C255.0 676.0 259.0 644.4 263.0 630.0C266.3 618.0 269.7 604.4 273.0 596.0C276.7 586.7 280.3 574.0 284.0 574.0C286.3 574.0 288.7 579.4 291.0 584.0C295.0 591.8 299.0 626.0 303.0 626.0C305.7 626.0 308.3 615.5 311.0 608.0C313.3 601.4 315.7 582.0 318.0 582.0C320.3 582.0 322.7 592.9 325.0 600.0C328.3 610.1 331.7 624.3 335.0 638.0C339.0 654.4 343.0 692.0 347.0 692.0C350.3 692.0 353.7 669.0 357.0 669.0C359.0 669.0 361.0 675.7 363.0 682.0C366.3 692.6 369.7 734.5 373.0 752.0C375.7 766.0 378.3 781.8 381.0 786.0C383.0 789.1 385.0 790.5 387.0 792.0C391.3 795.1 395.7 799.0 400.0 799.0C405.0 799.0 410.0 795.7 415.0 792.0C418.7 789.3 422.3 774.0 426.0 774.0C428.7 774.0 431.3 787.0 434.0 787.0C437.0 787.0 440.0 780.0 443.0 778.0C445.7 776.2 448.3 775.7 451.0 774.0C455.3 771.2 459.7 761.0 464.0 761.0C466.0 761.0 468.0 773.1 470.0 776.0C472.7 779.9 475.3 784.0 478.0 784.0C480.0 784.0 482.0 780.3 484.0 776.0C486.0 771.7 488.0 752.7 490.0 744.0C492.0 735.3 494.0 723.0 496.0 722.0C498.7 720.7 501.3 721.1 504.0 720.0C507.3 718.6 510.7 705.0 514.0 705.0C517.3 705.0 520.7 710.0 524.0 710.0C531.3 710.0 538.7 695.0 546.0 695.0C550.0 695.0 554.0 702.3 558.0 704.0C561.3 705.4 564.7 705.4 568.0 707.0C572.0 708.9 576.0 720.9 580.0 724.0C586.7 729.1 593.3 734.0 600.0 734.0C604.0 734.0 608.0 727.0 612.0 727.0C617.3 727.0 622.7 735.0 628.0 735.0C632.7 735.0 637.3 727.0 642.0 727.0C645.3 727.0 648.7 728.0 652.0 728.0C654.7 728.0 657.3 712.0 660.0 704.0C662.7 696.0 665.3 687.7 668.0 680.0C670.7 672.3 673.3 663.2 676.0 658.0C681.3 647.6 686.7 639.8 692.0 635.0C696.0 631.4 700.0 628.8 704.0 627.0C708.0 625.2 712.0 623.0 716.0 623.0C719.3 623.0 722.7 625.9 726.0 629.0C728.7 631.5 731.3 637.8 734.0 644.0C736.7 650.2 739.3 658.8 742.0 668.0C744.0 674.9 746.0 687.7 748.0 692.0C751.3 699.2 754.7 706.0 758.0 706.0C761.3 706.0 764.7 699.2 768.0 694.0C772.0 687.7 776.0 676.0 780.0 666.0C782.0 661.0 784.0 654.8 786.0 650.0C790.7 638.7 795.3 627.3 800.0 620.0C806.7 609.6 813.3 602.4 820.0 596.0C826.7 589.6 833.3 583.6 840.0 580.0C846.7 576.4 853.3 572.6 860.0 572.0C873.3 570.7 886.7 570.0 900.0 570.0C916.0 570.0 932.0 571.2 948.0 573.0C953.3 573.6 958.7 575.3 964.0 577.0C971.7 579.5 979.3 587.0 987.0 588.0C1007.0 590.6 1027.0 592.0 1047.0 592.0C1059.7 592.0 1072.3 581.6 1085.0 579.0C1104.0 575.1 1123.0 571.0 1142.0 571.0C1146.0 571.0 1150.0 572.0 1154.0 572.0C1155.4 572.0 1156.9 570.8 1158.3 570.8C1159.0 570.8 1159.6 575.1 1160.3 575.1C1161.0 575.1 1161.8 573.5 1162.5 573.5C1163.7 573.5 1164.8 573.6 1166.0 573.7C1173.3 574.3 1180.7 576.1 1188.0 578.0C1199.3 580.9 1210.7 587.6 1222.0 592.0C1233.7 596.6 1245.3 601.2 1257.0 605.0C1268.3 608.7 1279.7 611.7 1291.0 615.0C1295.7 616.3 1300.3 617.2 1305.0 619.0C1313.7 622.4 1322.3 633.0 1331.0 638.0C1339.3 642.8 1347.7 645.6 1356.0 650.0C1364.0 654.2 1372.0 659.5 1380.0 664.0C1390.0 669.6 1400.0 673.5 1410.0 680.0C1416.7 684.3 1423.3 689.9 1430.0 696.0C1437.3 702.8 1444.7 710.4 1452.0 720.0C1456.7 726.1 1461.3 739.1 1466.0 742.0C1469.3 744.1 1472.7 744.3 1476.0 746.0C1481.3 748.7 1486.7 758.0 1492.0 758.0C1496.7 758.0 1501.3 743.5 1506.0 738.0C1510.0 733.3 1514.0 729.8 1518.0 726.0C1524.0 720.3 1530.0 715.7 1536.0 710.0C1536.3 709.7 1536.7 709.0 1537.0 709.0C1544.3 709.0 1551.7 716.6 1559.0 722.0C1565.3 726.6 1571.7 733.8 1578.0 740.0C1584.3 746.2 1590.7 753.9 1597.0 759.0C1603.3 764.1 1609.7 768.5 1616.0 772.0C1622.3 775.5 1628.7 778.4 1635.0 781.0C1641.7 783.7 1648.3 786.5 1655.0 788.0C1667.7 790.9 1680.3 792.7 1693.0 794.0C1705.7 795.3 1718.3 796.5 1731.0 797.0C1743.7 797.5 1756.3 798.0 1769.0 798.0C1781.7 798.0 1794.3 796.4 1807.0 795.0C1816.7 793.9 1826.3 792.6 1836.0 790.0C1842.3 788.3 1848.7 784.2 1855.0 780.0C1861.3 775.8 1867.7 769.9 1874.0 763.0C1880.3 756.1 1886.7 748.3 1893.0 737.0C1897.0 729.8 1901.0 717.4 1905.0 707.8C1905.5 706.6 1906.0 705.5 1906.5 704.3C1907.0 703.0 1907.5 701.5 1908.0 700.2C1908.5 698.9 1909.0 697.6 1909.5 696.5C1910.0 695.4 1910.5 694.7 1911.0 693.6C1911.5 692.5 1912.0 690.9 1912.5 689.8C1913.0 688.6 1913.5 687.4 1914.0 686.5C1914.5 685.6 1915.0 685.1 1915.5 684.2C1916.0 683.3 1916.5 681.7 1917.0 680.7C1917.5 679.7 1918.0 679.0 1918.5 678.1C1919.0 677.1 1919.5 676.1 1920.0 675.1C1920.5 674.2 1921.0 673.2 1921.5 672.3C1922.0 671.5 1922.5 670.9 1923.0 670.1C1923.5 669.3 1924.0 668.3 1924.5 667.5C1925.0 666.8 1925.5 666.2 1926.0 665.5C1926.5 664.9 1927.0 664.2 1927.5 663.5C1928.0 662.7 1928.5 661.8 1929.0 661.1C1929.5 660.4 1930.0 659.8 1930.5 659.2C1931.0 658.6 1931.5 657.9 1932.0 657.4C1932.5 656.9 1933.0 656.5 1933.5 655.9C1934.0 655.4 1934.5 654.7 1935.0 654.0C1935.5 653.4 1936.0 652.6 1936.5 652.0C1937.0 651.4 1937.5 650.9 1938.0 650.3C1938.5 649.7 1939.0 649.0 1939.5 648.5C1940.0 648.0 1940.5 647.8 1941.0 647.3C1941.5 646.8 1942.0 645.7 1942.5 645.1C1943.0 644.5 1943.5 644.0 1944.0 643.6C1944.5 643.2 1945.0 643.0 1945.5 642.7C1946.0 642.4 1946.5 642.0 1947.0 641.6C1947.5 641.2 1948.0 640.5 1948.5 640.0C1949.0 639.4 1949.5 638.5 1950.0 638.3C1950.5 638.0 1951.0 638.1 1951.5 637.8C1952.0 637.6 1952.5 636.5 1953.0 636.0C1953.5 635.5 1954.0 635.2 1954.5 634.8C1955.0 634.5 1955.5 633.9 1956.0 633.7C1956.5 633.5 1957.0 633.6 1957.5 633.3C1958.0 633.1 1958.5 632.3 1959.0 631.8C1959.5 631.3 1960.0 631.0 1960.5 630.4C1961.0 629.9 1961.5 628.8 1962.0 628.5C1962.5 628.1 1963.0 628.1 1963.5 627.8C1964.0 627.4 1964.5 626.3 1965.0 625.6C1965.5 624.9 1966.0 624.3 1966.5 623.8C1967.0 623.2 1967.5 622.7 1968.0 622.4C1968.5 622.0 1969.0 621.9 1969.5 621.6C1970.0 621.3 1970.5 621.0 1971.0 620.6C1971.5 620.1 1972.0 619.1 1972.5 618.6C1973.0 618.1 1973.5 617.8 1974.0 617.3C1974.5 616.8 1975.0 616.1 1975.5 615.6C1976.0 615.1 1976.5 614.3 1977.0 614.1C1977.5 613.9 1978.0 613.8 1978.5 613.7C1979.0 613.6 1979.5 613.6 1980.0 613.4C1980.5 613.2 1981.0 611.4 1981.5 611.2C1982.0 611.0 1982.5 611.1 1983.0 610.9C1983.5 610.7 1984.0 609.1 1984.5 609.0C1985.0 608.9 1985.5 608.9 1986.0 608.8C1986.5 608.7 1987.0 607.5 1987.5 607.3C1988.0 607.2 1988.5 607.2 1989.0 607.1C1989.5 607.0 1990.0 606.0 1990.5 605.7C1991.0 605.4 1991.5 605.3 1992.0 605.0C1992.5 604.7 1993.0 603.7 1993.5 603.5C1994.0 603.3 1994.5 603.2 1995.0 603.1C1995.5 602.9 1996.0 602.3 1996.5 602.3C1997.0 602.3 1997.5 602.3 1998.0 602.3C1998.5 602.2 1999.0 601.9 1999.5 601.6C2000.0 601.2 2000.5 599.9 2001.0 599.9C2001.5 599.9 2002.0 600.0 2002.5 600.0C2003.0 600.0 2003.5 600.0 2004.0 600.0C2004.5 600.0 2005.0 599.7 2005.5 599.4C2006.0 599.2 2006.5 598.5 2007.0 598.4C2007.5 598.3 2008.0 598.4 2008.5 598.3C2009.0 598.2 2009.5 596.8 2010.0 596.6C2010.5 596.5 2011.0 596.4 2011.5 596.3C2012.0 596.2 2012.5 596.2 2013.0 596.1C2013.5 595.9 2014.0 594.9 2014.5 594.9C2015.0 594.9 2015.5 595.3 2016.0 595.3C2016.5 595.3 2017.0 595.0 2017.5 594.6C2018.0 594.2 2018.5 590.3 2019.0 590.3C2019.5 590.3 2020.0 590.7 2020.5 591.2C2021.0 591.7 2021.5 596.1 2022.0 596.1C2022.5 596.1 2023.0 594.9 2023.5 594.0C2024.0 593.1 2024.5 590.4 2025.0 590.4C2025.5 590.4 2026.0 591.5 2026.5 591.5C2027.0 591.5 2027.5 590.9 2028.0 590.6C2028.5 590.3 2029.0 589.8 2029.5 589.7C2030.0 589.6 2030.5 589.6 2031.0 589.5C2031.5 589.3 2032.0 588.1 2032.5 588.1C2033.0 588.1 2033.5 588.1 2034.0 588.1C2034.5 588.1 2035.0 587.6 2035.5 587.3C2036.0 587.0 2036.5 586.6 2037.0 586.2C2037.5 585.9 2038.0 585.5 2038.5 585.3C2039.0 585.1 2039.5 585.0 2040.0 584.8C2040.5 584.7 2041.0 584.2 2041.5 584.2C2042.0 584.2 2042.5 584.9 2043.0 584.9C2043.5 584.9 2044.0 584.5 2044.5 584.1C2045.0 583.7 2045.5 581.5 2046.0 581.5C2046.5 581.5 2047.0 583.1 2047.5 583.1C2048.0 583.1 2048.5 580.4 2049.0 580.4C2049.5 580.4 2050.0 582.1 2050.5 582.1C2051.0 582.1 2051.5 579.0 2052.0 579.0C2052.5 579.0 2053.0 580.6 2053.5 580.6C2054.0 580.6 2054.5 579.7 2055.0 579.4C2055.5 579.1 2056.0 578.8 2056.5 578.6C2057.0 578.3 2057.5 577.7 2058.0 577.7C2058.5 577.7 2059.0 578.4 2059.5 578.4C2060.0 578.4 2060.5 577.0 2061.0 577.0C2061.5 577.0 2062.0 577.5 2062.5 577.5C2063.0 577.5 2063.5 576.8 2064.0 576.4C2064.5 576.1 2065.0 575.3 2065.5 575.3C2066.0 575.3 2066.5 575.6 2067.0 575.7C2067.5 575.7 2068.0 575.8 2068.5 575.8C2069.0 575.8 2069.5 575.6 2070.0 575.4C2070.5 575.2 2071.0 574.4 2071.5 574.3C2072.0 574.1 2072.5 574.0 2073.0 574.0C2073.5 574.0 2074.0 574.7 2074.5 574.7C2075.0 574.7 2075.5 574.5 2076.0 574.3C2076.5 574.2 2077.0 573.4 2077.5 573.4C2078.0 573.4 2078.5 573.8 2079.0 573.8C2079.5 573.8 2080.0 573.2 2080.5 572.8C2081.0 572.5 2081.5 571.7 2082.0 571.7C2082.5 571.7 2083.0 572.4 2083.5 572.4C2084.0 572.4 2084.5 571.9 2085.0 571.8C2085.5 571.6 2086.0 571.6 2086.5 571.5C2087.0 571.3 2087.5 571.1 2088.0 571.0C2088.5 571.0 2089.0 571.0 2089.5 571.0C2090.0 571.0 2090.5 570.4 2091.0 570.2C2091.5 570.1 2092.0 569.9 2092.5 569.9C2093.0 569.9 2093.5 570.3 2094.0 570.3C2094.5 570.3 2095.0 570.0 2095.5 569.8C2096.0 569.6 2096.5 568.9 2097.0 568.8C2097.5 568.7 2098.0 568.6 2098.5 568.6C2099.0 568.6 2099.5 568.8 2100.0 568.8C2100.5 568.8 2101.0 567.9 2101.5 567.7C2103.0 567.3 2104.5 567.2 2106.0 567.0" stroke="#6E00E6"/>
<path d="M44.0 761.0C47.7 760.7 51.3 760.0 55.0 760.0C58.0 760.0 61.0 766.0 64.0 766.0C67.3 766.0 70.7 759.0 74.0 759.0C77.0 759.0 80.0 764.2 83.0 768.0C85.0 770.5 87.0 776.2 89.0 778.0C93.0 781.7 97.0 782.0 101.0 785.0C105.7 788.5 110.3 800.0 115.0 800.0C119.0 800.0 123.0 786.0 127.0 786.0C129.7 786.0 132.3 790.2 135.0 794.0C138.0 798.2 141.0 816.0 144.0 816.0C147.7 816.0 151.3 796.0 155.0 796.0C158.3 796.0 161.7 797.0 165.0 797.0C169.7 797.0 174.3 774.6 179.0 773.0C184.3 771.2 189.7 771.1 195.0 770.0C200.3 768.9 205.7 766.0 211.0 766.0C214.3 766.0 217.7 780.0 221.0 780.0C226.7 780.0 232.3 742.0 238.0 742.0C240.0 742.0 242.0 747.7 244.0 752.0C246.3 757.0 248.7 774.0 251.0 774.0C254.3 774.0 257.7 744.5 261.0 734.0C264.3 723.5 267.7 716.3 271.0 708.0C275.7 696.4 280.3 675.0 285.0 675.0C287.7 675.0 290.3 688.9 293.0 696.0C296.3 704.9 299.7 723.0 303.0 723.0C305.7 723.0 308.3 711.6 311.0 704.0C313.3 697.3 315.7 679.0 318.0 679.0C323.0 679.0 328.0 708.8 333.0 728.0C337.3 744.6 341.7 788.0 346.0 788.0C349.7 788.0 353.3 768.0 357.0 768.0C359.0 768.0 361.0 777.0 363.0 784.0C366.3 795.7 369.7 820.9 373.0 840.0C375.0 851.4 377.0 871.8 379.0 875.0C381.7 879.2 384.3 879.9 387.0 882.0C391.3 885.4 395.7 891.0 400.0 891.0C405.0 891.0 410.0 887.7 415.0 884.0C418.7 881.3 422.3 867.0 426.0 867.0C428.7 867.0 431.3 878.0 434.0 878.0C437.0 878.0 440.0 870.5 443.0 868.0C450.0 862.2 457.0 855.0 464.0 855.0C466.0 855.0 468.0 865.0 470.0 868.0C472.7 872.0 475.3 877.0 478.0 877.0C480.0 877.0 482.0 872.5 484.0 868.0C486.0 863.5 488.0 848.2 490.0 840.0C492.0 831.8 494.0 819.0 496.0 818.0C498.7 816.7 501.3 817.1 504.0 816.0C507.3 814.6 510.7 801.0 514.0 801.0C517.3 801.0 520.7 807.0 524.0 807.0C531.3 807.0 538.7 792.0 546.0 792.0C550.0 792.0 554.0 799.8 558.0 801.0C561.3 802.0 564.7 801.9 568.0 803.0C572.0 804.4 576.0 816.9 580.0 820.0C586.7 825.1 593.3 830.0 600.0 830.0C604.0 830.0 608.0 823.0 612.0 823.0C617.3 823.0 622.7 831.0 628.0 831.0C632.7 831.0 637.3 823.0 642.0 823.0C645.3 823.0 648.7 824.0 652.0 824.0C654.7 824.0 657.3 808.2 660.0 800.0C663.3 789.7 666.7 776.2 670.0 768.0C673.3 759.8 676.7 752.6 680.0 748.0C685.3 740.7 690.7 736.1 696.0 732.0C702.0 727.4 708.0 721.0 714.0 721.0C717.3 721.0 720.7 723.3 724.0 726.0C727.3 728.7 730.7 737.3 734.0 746.0C737.3 754.7 740.7 773.5 744.0 784.0C746.3 791.3 748.7 799.2 751.0 803.0C752.7 805.7 754.3 809.0 756.0 809.0C758.3 809.0 760.7 807.1 763.0 805.0C765.3 802.9 767.7 795.6 770.0 790.0C774.7 778.8 779.3 761.4 784.0 750.0C789.3 737.0 794.7 724.3 800.0 716.0C806.7 705.7 813.3 697.9 820.0 692.0C826.7 686.1 833.3 681.4 840.0 678.0C846.7 674.6 853.3 670.6 860.0 670.0C873.3 668.7 886.7 668.0 900.0 668.0C916.0 668.0 932.0 669.7 948.0 672.0C961.0 673.9 974.0 686.8 987.0 689.0C1007.0 692.4 1027.0 695.0 1047.0 695.0C1059.7 695.0 1072.3 681.2 1085.0 679.0C1104.0 675.7 1123.0 673.0 1142.0 673.0C1146.0 673.0 1150.0 674.7 1154.0 674.7C1155.4 674.7 1156.9 673.7 1158.3 673.7C1159.0 673.7 1159.6 678.1 1160.3 678.1C1161.0 678.1 1161.8 676.5 1162.5 676.5C1163.7 676.5 1164.8 676.6 1166.0 676.7C1173.3 677.2 1180.7 678.4 1188.0 680.0C1199.3 682.5 1210.7 691.5 1222.0 696.0C1233.7 700.6 1245.3 704.2 1257.0 708.0C1271.3 712.7 1285.7 716.3 1300.0 721.5C1304.5 723.1 1309.0 724.5 1313.5 727.0C1319.9 730.5 1326.3 740.0 1332.7 744.6C1339.1 749.2 1345.6 752.5 1352.0 756.0C1361.3 761.1 1370.7 765.5 1380.0 770.0C1390.0 774.8 1400.0 778.3 1410.0 784.0C1416.7 787.8 1423.3 792.3 1430.0 798.0C1437.3 804.2 1444.7 812.8 1452.0 822.0C1456.7 827.8 1461.3 839.2 1466.0 842.0C1469.3 844.0 1472.7 844.3 1476.0 846.0C1481.3 848.6 1486.7 857.0 1492.0 857.0C1496.7 857.0 1501.3 841.0 1506.0 836.0C1510.0 831.7 1514.0 829.0 1518.0 826.0C1524.0 821.5 1530.0 814.0 1536.0 814.0C1536.3 814.0 1536.7 814.0 1537.0 814.0C1544.3 814.0 1551.7 822.3 1559.0 828.0C1565.3 833.0 1571.7 841.4 1578.0 847.0C1584.3 852.6 1590.7 857.8 1597.0 862.0C1603.3 866.2 1609.7 870.1 1616.0 873.0C1622.3 875.9 1628.7 877.9 1635.0 880.0C1641.7 882.2 1648.3 884.6 1655.0 886.0C1667.7 888.7 1680.3 891.0 1693.0 892.0C1705.7 893.0 1718.3 894.0 1731.0 894.0C1743.7 894.0 1756.3 894.0 1769.0 894.0C1781.7 894.0 1794.3 892.5 1807.0 891.0C1816.7 889.9 1826.3 887.7 1836.0 885.0C1842.3 883.2 1848.7 880.6 1855.0 877.0C1861.3 873.4 1867.7 866.7 1874.0 860.0C1879.0 854.7 1884.0 848.7 1889.0 841.0C1892.3 835.9 1895.7 829.4 1899.0 822.0C1901.0 817.6 1903.0 812.2 1905.0 806.6C1905.5 805.2 1906.0 803.6 1906.5 802.2C1907.0 800.9 1907.5 799.6 1908.0 798.5C1908.5 797.3 1909.0 796.4 1909.5 795.3C1910.0 794.2 1910.5 792.9 1911.0 791.9C1911.5 791.0 1912.0 790.3 1912.5 789.3C1913.0 788.3 1913.5 787.0 1914.0 786.1C1914.5 785.1 1915.0 784.5 1915.5 783.6C1916.0 782.6 1916.5 781.6 1917.0 780.5C1917.5 779.5 1918.0 778.4 1918.5 777.3C1919.0 776.3 1919.5 775.2 1920.0 774.1C1920.5 773.0 1921.0 771.9 1921.5 770.7C1922.0 769.6 1922.5 768.0 1923.0 767.1C1923.5 766.2 1924.0 765.6 1924.5 764.9C1925.0 764.1 1925.5 763.3 1926.0 762.5C1926.5 761.8 1927.0 761.1 1927.5 760.5C1928.0 759.8 1928.5 759.2 1929.0 758.6C1929.5 758.0 1930.0 757.5 1930.5 756.9C1931.0 756.3 1931.5 755.6 1932.0 755.1C1932.5 754.6 1933.0 754.3 1933.5 753.8C1934.0 753.2 1934.5 752.3 1935.0 751.7C1935.5 751.1 1936.0 750.6 1936.5 750.2C1937.0 749.9 1937.5 749.8 1938.0 749.4C1938.5 749.1 1939.0 748.4 1939.5 747.8C1940.0 747.2 1940.5 746.3 1941.0 746.0C1941.5 745.7 1942.0 745.7 1942.5 745.4C1943.0 745.1 1943.5 744.2 1944.0 743.9C1944.5 743.5 1945.0 743.4 1945.5 743.0C1946.0 742.7 1946.5 741.5 1947.0 741.2C1947.5 740.9 1948.0 740.8 1948.5 740.5C1949.0 740.3 1949.5 739.9 1950.0 739.5C1950.5 739.1 1951.0 738.4 1951.5 738.0C1952.0 737.6 1952.5 737.3 1953.0 736.9C1953.5 736.6 1954.0 736.3 1954.5 735.8C1955.0 735.4 1955.5 734.6 1956.0 734.1C1956.5 733.6 1957.0 733.1 1957.5 732.8C1958.0 732.5 1958.5 732.4 1959.0 732.0C1959.5 731.7 1960.0 730.9 1960.5 730.4C1961.0 729.9 1961.5 729.4 1962.0 729.0C1962.5 728.5 1963.0 728.2 1963.5 727.8C1964.0 727.4 1964.5 727.1 1965.0 726.7C1965.5 726.2 1966.0 725.6 1966.5 725.2C1967.0 724.8 1967.5 724.7 1968.0 724.3C1968.5 723.9 1969.0 723.5 1969.5 722.9C1970.0 722.4 1970.5 721.4 1971.0 720.9C1971.5 720.4 1972.0 720.1 1972.5 719.7C1973.0 719.2 1973.5 718.8 1974.0 718.2C1974.5 717.5 1975.0 715.9 1975.5 715.8C1976.0 715.6 1976.5 715.7 1977.0 715.5C1977.5 715.4 1978.0 714.6 1978.5 714.2C1979.0 713.8 1979.5 713.6 1980.0 713.1C1980.5 712.6 1981.0 711.1 1981.5 710.7C1982.0 710.2 1982.5 710.1 1983.0 709.8C1983.5 709.5 1984.0 709.0 1984.5 708.8C1985.0 708.6 1985.5 708.6 1986.0 708.3C1986.5 708.1 1987.0 707.1 1987.5 707.0C1988.0 707.0 1988.5 707.0 1989.0 706.9C1989.5 706.9 1990.0 704.8 1990.5 704.8C1991.0 704.8 1991.5 705.4 1992.0 705.4C1992.5 705.4 1993.0 705.0 1993.5 704.7C1994.0 704.4 1994.5 703.4 1995.0 703.0C1995.5 702.5 1996.0 702.0 1996.5 702.0C1997.0 702.0 1997.5 702.4 1998.0 702.4C1998.5 702.4 1999.0 702.2 1999.5 702.0C2000.0 701.8 2000.5 700.3 2001.0 700.3C2001.5 700.3 2002.0 700.7 2002.5 700.7C2003.0 700.7 2003.5 700.1 2004.0 699.9C2004.5 699.6 2005.0 699.3 2005.5 699.0C2006.0 698.7 2006.5 698.4 2007.0 698.1C2007.5 697.7 2008.0 696.8 2008.5 696.8C2009.0 696.8 2009.5 697.8 2010.0 697.8C2010.5 697.8 2011.0 697.2 2011.5 697.1C2012.0 697.0 2012.5 697.0 2013.0 696.8C2013.5 696.6 2014.0 694.9 2014.5 694.9C2015.0 694.9 2015.5 695.5 2016.0 695.5C2016.5 695.5 2017.0 695.3 2017.5 695.0C2018.0 694.8 2018.5 690.3 2019.0 690.3C2019.5 690.3 2020.0 690.7 2020.5 691.2C2021.0 691.7 2021.5 696.1 2022.0 696.1C2022.5 696.1 2023.0 694.9 2023.5 694.1C2024.0 693.2 2024.5 690.5 2025.0 690.5C2025.5 690.5 2026.0 691.0 2026.5 691.0C2027.0 691.0 2027.5 690.7 2028.0 690.4C2028.5 690.2 2029.0 689.8 2029.5 689.6C2030.0 689.3 2030.5 689.0 2031.0 688.8C2031.5 688.5 2032.0 687.9 2032.5 687.9C2033.0 687.9 2033.5 688.7 2034.0 688.7C2034.5 688.7 2035.0 688.1 2035.5 687.9C2036.0 687.7 2036.5 687.6 2037.0 687.4C2037.5 687.1 2038.0 685.9 2038.5 685.9C2039.0 685.9 2039.5 686.9 2040.0 686.9C2040.5 686.9 2041.0 685.5 2041.5 685.2C2042.0 684.9 2042.5 684.8 2043.0 684.7C2043.5 684.5 2044.0 684.2 2044.5 684.2C2045.0 684.2 2045.5 684.3 2046.0 684.3C2046.5 684.4 2047.0 684.5 2047.5 684.5C2048.0 684.5 2048.5 684.1 2049.0 683.9C2049.5 683.8 2050.0 683.7 2050.5 683.4C2051.0 683.2 2051.5 681.2 2052.0 681.2C2052.5 681.2 2053.0 681.9 2053.5 681.9C2054.0 681.9 2054.5 681.3 2055.0 681.3C2055.5 681.3 2056.0 681.4 2056.5 681.4C2057.0 681.4 2057.5 680.9 2058.0 680.5C2058.5 680.2 2059.0 679.2 2059.5 679.2C2060.0 679.2 2060.5 679.9 2061.0 679.9C2061.5 679.9 2062.0 679.4 2062.5 679.0C2063.0 678.7 2063.5 677.7 2064.0 677.7C2064.5 677.7 2065.0 678.7 2065.5 678.7C2066.0 678.7 2066.5 677.0 2067.0 677.0C2067.5 677.0 2068.0 677.2 2068.5 677.2C2069.0 677.2 2069.5 675.9 2070.0 675.9C2070.5 675.9 2071.0 676.8 2071.5 676.8C2072.0 676.8 2072.5 675.5 2073.0 675.3C2073.5 675.1 2074.0 675.0 2074.5 675.0C2075.0 675.0 2075.5 675.6 2076.0 675.6C2076.5 675.6 2077.0 674.3 2077.5 674.3C2078.0 674.3 2078.5 674.7 2079.0 674.7C2079.5 674.7 2080.0 673.7 2080.5 673.7C2081.0 673.7 2081.5 673.7 2082.0 673.7C2082.5 673.7 2083.0 671.9 2083.5 671.9C2084.0 671.9 2084.5 672.8 2085.0 672.8C2085.5 672.8 2086.0 671.4 2086.5 671.4C2087.0 671.4 2087.5 671.7 2088.0 671.7C2088.5 671.7 2089.0 670.1 2089.5 670.1C2090.0 670.1 2090.5 670.1 2091.0 670.0C2091.5 670.0 2092.0 669.5 2092.5 669.3C2093.0 669.1 2093.5 668.7 2094.0 668.7C2094.5 668.7 2095.0 669.7 2095.5 669.7C2096.0 669.7 2096.5 669.6 2097.0 669.5C2097.5 669.4 2098.0 668.0 2098.5 667.7C2099.0 667.4 2099.5 667.2 2100.0 667.2C2100.5 667.2 2101.0 667.7 2101.5 667.7C2103.0 667.7 2104.5 666.6 2106.0 666.0" stroke="#808080"/>
<path d="M44.0 866.0C47.0 865.7 50.0 865.0 53.0 865.0C57.0 865.0 61.0 874.0 65.0 874.0C68.3 874.0 71.7 869.0 75.0 869.0C79.0 869.0 83.0 882.1 87.0 885.0C91.7 888.4 96.3 888.8 101.0 892.0C105.7 895.2 110.3 907.0 115.0 907.0C119.0 907.0 123.0 893.0 127.0 893.0C129.7 893.0 132.3 896.6 135.0 900.0C138.0 903.8 141.0 921.0 144.0 921.0C147.7 921.0 151.3 902.0 155.0 902.0C158.3 902.0 161.7 904.0 165.0 904.0C169.7 904.0 174.3 883.6 179.0 882.0C184.3 880.2 189.7 880.1 195.0 879.0C200.3 877.9 205.7 875.0 211.0 875.0C214.3 875.0 217.7 889.0 221.0 889.0C226.7 889.0 232.3 856.0 238.0 856.0C242.3 856.0 246.7 883.0 251.0 883.0C255.0 883.0 259.0 850.2 263.0 840.0C266.3 831.5 269.7 826.4 273.0 820.0C277.0 812.3 281.0 798.0 285.0 798.0C288.0 798.0 291.0 813.4 294.0 820.0C297.0 826.6 300.0 838.0 303.0 838.0C305.7 838.0 308.3 826.2 311.0 820.0C313.3 814.5 315.7 803.0 318.0 803.0C323.0 803.0 328.0 826.9 333.0 842.0C337.7 856.1 342.3 892.0 347.0 892.0C350.3 892.0 353.7 872.0 357.0 872.0C359.0 872.0 361.0 879.4 363.0 886.0C366.3 897.0 369.7 930.8 373.0 950.0C375.7 965.3 378.3 987.7 381.0 992.0C383.0 995.3 385.0 996.5 387.0 998.0C391.3 1001.1 395.7 1005.0 400.0 1005.0C405.0 1005.0 410.0 1001.9 415.0 998.0C418.7 995.1 422.3 976.0 426.0 976.0C428.7 976.0 431.3 990.0 434.0 990.0C437.3 990.0 440.7 981.0 444.0 979.0C446.3 977.6 448.7 977.4 451.0 976.0C455.0 973.6 459.0 962.0 463.0 962.0C465.3 962.0 467.7 972.4 470.0 976.0C472.7 980.1 475.3 986.0 478.0 986.0C480.0 986.0 482.0 981.1 484.0 976.0C486.0 970.9 488.0 953.1 490.0 944.0C492.0 934.9 494.0 921.4 496.0 920.0C498.7 918.1 501.3 918.5 504.0 917.0C507.3 915.1 510.7 903.0 514.0 903.0C517.3 903.0 520.7 909.0 524.0 909.0C531.3 909.0 538.7 896.0 546.0 896.0C550.0 896.0 554.0 903.8 558.0 905.0C561.3 906.0 564.7 905.9 568.0 907.0C572.0 908.4 576.0 920.0 580.0 923.0C586.7 928.0 593.3 933.0 600.0 933.0C604.0 933.0 608.0 926.0 612.0 926.0C617.3 926.0 622.7 934.0 628.0 934.0C632.7 934.0 637.3 926.0 642.0 926.0C645.3 926.0 648.7 927.0 652.0 927.0C654.7 927.0 657.3 912.1 660.0 904.0C663.3 893.9 666.7 879.1 670.0 872.0C673.3 864.9 676.7 859.9 680.0 856.0C685.3 849.8 690.7 844.8 696.0 842.0C701.3 839.2 706.7 836.0 712.0 836.0C716.0 836.0 720.0 837.7 724.0 840.0C727.3 841.9 730.7 848.9 734.0 856.0C737.3 863.1 740.7 880.4 744.0 888.0C748.7 898.6 753.3 912.0 758.0 912.0C761.3 912.0 764.7 903.9 768.0 898.0C772.0 890.9 776.0 876.5 780.0 868.0C786.7 853.9 793.3 840.6 800.0 832.0C806.7 823.4 813.3 817.0 820.0 812.0C826.7 807.0 833.3 802.7 840.0 800.0C846.7 797.3 853.3 794.6 860.0 794.0C873.3 792.8 886.7 792.0 900.0 792.0C916.0 792.0 932.0 793.8 948.0 796.0C961.0 797.8 974.0 807.8 987.0 809.0C1007.0 810.8 1027.0 812.0 1047.0 812.0C1059.7 812.0 1072.3 802.1 1085.0 800.0C1104.0 796.9 1123.0 794.0 1142.0 794.0C1146.0 794.0 1150.0 794.6 1154.0 794.6C1155.4 794.6 1156.9 793.2 1158.3 793.2C1159.0 793.2 1159.6 797.4 1160.3 797.4C1161.0 797.4 1161.8 795.8 1162.5 795.8C1163.7 795.8 1164.8 795.9 1166.0 796.0C1173.3 796.6 1180.7 798.3 1188.0 800.0C1203.3 803.6 1218.7 812.0 1234.0 817.0C1249.0 821.9 1264.0 826.6 1279.0 830.0C1286.0 831.6 1293.0 832.0 1300.0 834.0C1308.7 836.5 1317.3 845.4 1326.0 850.0C1337.3 856.1 1348.7 861.1 1360.0 866.0C1373.3 871.8 1386.7 876.0 1400.0 882.0C1406.7 885.0 1413.3 887.9 1420.0 892.0C1426.7 896.1 1433.3 901.7 1440.0 908.0C1445.3 913.0 1450.7 919.5 1456.0 926.0C1460.0 930.9 1464.0 939.1 1468.0 942.0C1472.0 944.9 1476.0 945.5 1480.0 948.0C1484.0 950.5 1488.0 958.0 1492.0 958.0C1496.7 958.0 1501.3 945.2 1506.0 940.0C1510.0 935.5 1514.0 931.5 1518.0 928.0C1524.0 922.7 1530.0 914.0 1536.0 914.0C1536.3 914.0 1536.7 914.0 1537.0 914.0C1544.3 914.0 1551.7 923.3 1559.0 929.0C1565.3 933.9 1571.7 940.7 1578.0 946.0C1584.3 951.3 1590.7 956.2 1597.0 961.0C1603.3 965.8 1609.7 970.9 1616.0 975.0C1622.3 979.1 1628.7 983.2 1635.0 986.0C1641.7 988.9 1648.3 991.1 1655.0 993.0C1667.7 996.5 1680.3 999.5 1693.0 1001.5C1705.7 1003.5 1718.3 1006.0 1731.0 1006.0C1743.7 1006.0 1756.3 1006.0 1769.0 1006.0C1781.7 1006.0 1794.3 1004.5 1807.0 1003.0C1816.7 1001.8 1826.3 999.3 1836.0 996.0C1842.3 993.8 1848.7 990.4 1855.0 986.0C1861.3 981.6 1867.7 974.7 1874.0 967.0C1879.0 960.9 1884.0 952.6 1889.0 944.0C1893.0 937.2 1897.0 929.4 1901.0 921.0C1902.3 918.2 1903.7 915.0 1905.0 912.0C1905.5 910.9 1906.0 909.8 1906.5 908.6C1907.0 907.4 1907.5 905.9 1908.0 904.7C1908.5 903.5 1909.0 902.3 1909.5 901.2C1910.0 900.0 1910.5 898.7 1911.0 897.8C1911.5 896.9 1912.0 896.4 1912.5 895.5C1913.0 894.6 1913.5 893.1 1914.0 892.0C1914.5 890.8 1915.0 889.6 1915.5 888.6C1916.0 887.6 1916.5 886.8 1917.0 885.9C1917.5 885.0 1918.0 883.7 1918.5 883.0C1919.0 882.3 1919.5 882.1 1920.0 881.4C1920.5 880.8 1921.0 880.0 1921.5 879.1C1922.0 878.2 1922.5 876.7 1923.0 875.9C1923.5 875.1 1924.0 874.6 1924.5 874.0C1925.0 873.4 1925.5 872.9 1926.0 872.3C1926.5 871.8 1927.0 871.2 1927.5 870.7C1928.0 870.2 1928.5 869.8 1929.0 869.3C1929.5 868.7 1930.0 867.8 1930.5 867.4C1931.0 867.0 1931.5 866.7 1932.0 866.4C1932.5 866.1 1933.0 865.8 1933.5 865.5C1934.0 865.1 1934.5 864.7 1935.0 864.2C1935.5 863.7 1936.0 862.9 1936.5 862.5C1937.0 862.0 1937.5 861.7 1938.0 861.3C1938.5 861.0 1939.0 860.7 1939.5 860.3C1940.0 859.9 1940.5 859.0 1941.0 858.5C1941.5 858.1 1942.0 857.8 1942.5 857.3C1943.0 856.8 1943.5 855.6 1944.0 855.4C1944.5 855.2 1945.0 855.2 1945.5 855.0C1946.0 854.8 1946.5 854.3 1947.0 853.9C1947.5 853.5 1948.0 852.9 1948.5 852.4C1949.0 852.0 1949.5 851.8 1950.0 851.3C1950.5 850.8 1951.0 849.6 1951.5 849.3C1952.0 849.0 1952.5 849.0 1953.0 848.8C1953.5 848.5 1954.0 848.3 1954.5 847.8C1955.0 847.4 1955.5 846.2 1956.0 845.8C1956.5 845.3 1957.0 845.0 1957.5 844.7C1958.0 844.3 1958.5 843.9 1959.0 843.5C1959.5 843.1 1960.0 842.6 1960.5 842.4C1961.0 842.2 1961.5 842.2 1962.0 842.0C1962.5 841.8 1963.0 841.5 1963.5 841.2C1964.0 840.8 1964.5 840.2 1965.0 839.8C1965.5 839.3 1966.0 838.6 1966.5 838.4C1967.0 838.1 1967.5 838.1 1968.0 837.9C1968.5 837.6 1969.0 836.6 1969.5 836.1C1970.0 835.6 1970.5 835.0 1971.0 834.9C1971.5 834.8 1972.0 834.8 1972.5 834.7C1973.0 834.5 1973.5 833.7 1974.0 833.3C1974.5 833.0 1975.0 832.8 1975.5 832.5C1976.0 832.2 1976.5 831.9 1977.0 831.5C1977.5 831.1 1978.0 830.2 1978.5 830.1C1979.0 829.9 1979.5 829.9 1980.0 829.8C1980.5 829.6 1981.0 828.6 1981.5 828.1C1982.0 827.7 1982.5 827.3 1983.0 827.0C1983.5 826.6 1984.0 826.1 1984.5 826.1C1985.0 826.1 1985.5 826.1 1986.0 826.1C1986.5 826.0 1987.0 825.6 1987.5 825.4C1988.0 825.2 1988.5 825.0 1989.0 824.9C1989.5 824.7 1990.0 824.7 1990.5 824.6C1991.0 824.4 1991.5 823.2 1992.0 822.9C1992.5 822.6 1993.0 822.4 1993.5 822.3C1994.0 822.1 1994.5 821.9 1995.0 821.9C1995.5 821.9 1996.0 822.0 1996.5 822.0C1997.0 822.0 1997.5 821.5 1998.0 821.2C1998.5 820.9 1999.0 820.2 1999.5 820.2C2000.0 820.2 2000.5 820.5 2001.0 820.5C2001.5 820.5 2002.0 819.5 2002.5 819.0C2003.0 818.6 2003.5 817.9 2004.0 817.9C2004.5 817.9 2005.0 818.6 2005.5 818.6C2006.0 818.6 2006.5 817.6 2007.0 817.3C2007.5 817.0 2008.0 816.9 2008.5 816.6C2009.0 816.4 2009.5 815.8 2010.0 815.8C2010.5 815.8 2011.0 815.8 2011.5 815.9C2012.0 815.9 2012.5 816.1 2013.0 816.1C2013.5 816.1 2014.0 815.7 2014.5 815.5C2015.0 815.2 2015.5 814.8 2016.0 814.6C2016.5 814.4 2017.0 814.4 2017.5 814.2C2018.0 813.9 2018.5 810.1 2019.0 810.1C2019.5 810.1 2020.0 810.6 2020.5 811.2C2021.0 811.7 2021.5 816.2 2022.0 816.2C2022.5 816.2 2023.0 815.1 2023.5 814.2C2024.0 813.4 2024.5 810.8 2025.0 810.8C2025.5 810.8 2026.0 810.8 2026.5 810.7C2027.0 810.7 2027.5 810.5 2028.0 810.5C2028.5 810.5 2029.0 810.8 2029.5 810.8C2030.0 810.8 2030.5 810.4 2031.0 810.1C2031.5 809.9 2032.0 809.0 2032.5 808.9C2033.0 808.8 2033.5 808.8 2034.0 808.8C2034.5 808.7 2035.0 808.6 2035.5 808.6C2036.0 808.6 2036.5 809.0 2037.0 809.0C2037.5 809.0 2038.0 808.5 2038.5 808.2C2039.0 807.9 2039.5 807.4 2040.0 807.2C2040.5 807.0 2041.0 806.9 2041.5 806.8C2042.0 806.6 2042.5 806.3 2043.0 806.3C2043.5 806.3 2044.0 806.3 2044.5 806.3C2045.0 806.4 2045.5 807.1 2046.0 807.1C2046.5 807.1 2047.0 805.1 2047.5 805.1C2048.0 805.1 2048.5 806.7 2049.0 806.7C2049.5 806.7 2050.0 804.3 2050.5 804.3C2051.0 804.3 2051.5 805.9 2052.0 805.9C2052.5 805.9 2053.0 805.5 2053.5 805.2C2054.0 804.8 2054.5 803.2 2055.0 803.2C2055.5 803.2 2056.0 803.2 2056.5 803.3C2057.0 803.3 2057.5 803.9 2058.0 803.9C2058.5 803.9 2059.0 803.7 2059.5 803.6C2060.0 803.4 2060.5 803.2 2061.0 802.9C2061.5 802.6 2062.0 801.8 2062.5 801.5C2063.0 801.2 2063.5 800.9 2064.0 800.9C2064.5 800.9 2065.0 801.9 2065.5 801.9C2066.0 801.9 2066.5 801.1 2067.0 800.8C2067.5 800.4 2068.0 799.7 2068.5 799.7C2069.0 799.7 2069.5 800.5 2070.0 800.5C2070.5 800.5 2071.0 800.5 2071.5 800.5C2072.0 800.4 2072.5 800.0 2073.0 799.7C2073.5 799.3 2074.0 798.2 2074.5 798.2C2075.0 798.2 2075.5 798.8 2076.0 798.8C2076.5 798.8 2077.0 797.6 2077.5 797.5C2078.0 797.4 2078.5 797.4 2079.0 797.3C2079.5 797.3 2080.0 796.7 2080.5 796.7C2081.0 796.7 2081.5 796.9 2082.0 796.9C2082.5 796.9 2083.0 796.7 2083.5 796.7C2084.0 796.6 2084.5 796.6 2085.0 796.6C2085.5 796.5 2086.0 795.5 2086.5 795.5C2087.0 795.5 2087.5 796.2 2088.0 796.2C2088.5 796.2 2089.0 795.2 2089.5 795.2C2090.0 795.2 2090.5 795.4 2091.0 795.4C2091.5 795.4 2092.0 794.6 2092.5 794.4C2093.0 794.2 2093.5 794.2 2094.0 794.0C2094.5 793.9 2095.0 793.1 2095.5 793.1C2096.0 793.1 2096.5 793.2 2097.0 793.2C2097.5 793.2 2098.0 793.0 2098.5 792.9C2099.0 792.9 2099.5 792.9 2100.0 792.8C2100.5 792.7 2101.0 791.6 2101.5 791.5C2103.0 791.2 2104.5 791.2 2106.0 791.0" stroke="#8C9BFF"/>
<path d="M44.0 963.0C47.0 962.7 50.0 962.0 53.0 962.0C57.0 962.0 61.0 973.0 65.0 973.0C68.3 973.0 71.7 968.0 75.0 968.0C79.0 968.0 83.0 982.4 87.0 986.0C91.7 990.2 96.3 990.9 101.0 995.0C105.7 999.1 110.3 1014.0 115.0 1014.0C119.0 1014.0 123.0 1000.0 127.0 1000.0C129.7 1000.0 132.3 1002.8 135.0 1006.0C138.0 1009.6 141.0 1034.0 144.0 1034.0C147.7 1034.0 151.3 1012.0 155.0 1012.0C158.3 1012.0 161.7 1013.0 165.0 1013.0C169.7 1013.0 174.3 990.5 179.0 988.0C184.3 985.1 189.7 984.5 195.0 983.0C200.0 981.6 205.0 979.0 210.0 979.0C213.3 979.0 216.7 993.0 220.0 993.0C226.0 993.0 232.0 953.0 238.0 953.0C240.0 953.0 242.0 956.6 244.0 960.0C246.3 964.0 248.7 984.0 251.0 984.0C254.3 984.0 257.7 954.1 261.0 946.0C264.3 937.9 267.7 934.6 271.0 928.0C275.7 918.8 280.3 897.0 285.0 897.0C287.7 897.0 290.3 910.2 293.0 916.0C296.3 923.3 299.7 936.0 303.0 936.0C305.7 936.0 308.3 926.9 311.0 920.0C313.3 914.0 315.7 895.0 318.0 895.0C323.0 895.0 328.0 918.4 333.0 934.0C337.7 948.5 342.3 988.0 347.0 988.0C350.7 988.0 354.3 959.0 358.0 959.0C360.7 959.0 363.3 971.4 366.0 984.0C368.3 995.0 370.7 1024.6 373.0 1048.0C373.8 1056.4 374.7 1067.3 375.5 1075.0C376.5 1084.2 377.5 1094.3 378.5 1099.0C380.3 1107.5 382.2 1112.8 384.0 1116.0C386.9 1121.0 389.8 1122.2 392.7 1126.0C394.9 1128.9 397.1 1136.0 399.3 1136.0C402.0 1136.0 404.6 1130.9 407.3 1128.7C410.4 1126.1 413.6 1125.6 416.7 1121.5C418.4 1119.3 420.1 1110.7 421.8 1105.5C423.3 1101.0 424.7 1092.4 426.2 1092.4C428.4 1092.4 430.5 1114.0 432.7 1114.0C435.1 1114.0 437.6 1096.9 440.0 1094.5C442.4 1092.1 444.9 1092.2 447.3 1090.0C449.7 1087.8 452.1 1080.8 454.5 1077.8C457.4 1074.1 460.4 1069.0 463.3 1069.0C465.2 1069.0 467.1 1076.0 469.0 1080.7C471.5 1086.8 473.9 1104.0 476.4 1104.0C478.8 1104.0 481.2 1087.8 483.6 1076.4C485.6 1067.0 487.5 1050.3 489.5 1040.0C491.3 1030.4 493.2 1015.8 495.0 1015.0C498.0 1013.6 501.0 1014.1 504.0 1013.0C507.3 1011.7 510.7 998.0 514.0 998.0C517.3 998.0 520.7 1004.0 524.0 1004.0C531.3 1004.0 538.7 992.0 546.0 992.0C550.0 992.0 554.0 999.3 558.0 1000.0C561.3 1000.6 564.7 1000.4 568.0 1001.0C572.0 1001.7 576.0 1016.8 580.0 1020.0C586.7 1025.3 593.3 1030.0 600.0 1030.0C604.0 1030.0 608.0 1022.0 612.0 1022.0C616.7 1022.0 621.3 1030.0 626.0 1030.0C631.3 1030.0 636.7 1020.6 642.0 1019.0C645.3 1018.0 648.7 1018.3 652.0 1017.0C654.7 1016.0 657.3 998.1 660.0 990.0C662.7 981.9 665.3 974.2 668.0 968.0C671.3 960.2 674.7 952.3 678.0 948.0C684.0 940.3 690.0 935.3 696.0 932.0C700.0 929.8 704.0 927.0 708.0 927.0C712.0 927.0 716.0 927.8 720.0 929.0C723.3 930.0 726.7 934.7 730.0 940.0C733.3 945.3 736.7 958.3 740.0 968.0C742.7 975.7 745.3 985.8 748.0 992.0C750.7 998.2 753.3 1007.0 756.0 1007.0C758.7 1007.0 761.3 1004.5 764.0 1002.0C767.3 998.8 770.7 987.8 774.0 980.0C778.0 970.7 782.0 958.6 786.0 950.0C790.7 940.0 795.3 929.3 800.0 924.0C806.7 916.4 813.3 911.4 820.0 908.0C830.0 902.8 840.0 897.8 850.0 897.0C866.7 895.7 883.3 895.0 900.0 895.0C916.0 895.0 932.0 896.4 948.0 898.0C961.0 899.3 974.0 905.9 987.0 907.0C1007.0 908.7 1027.0 910.0 1047.0 910.0C1059.7 910.0 1072.3 903.8 1085.0 902.0C1104.0 899.3 1123.0 896.0 1142.0 896.0C1146.0 896.0 1150.0 896.5 1154.0 896.5C1155.4 896.5 1156.9 895.1 1158.3 895.1C1159.0 895.1 1159.6 899.3 1160.3 899.3C1161.0 899.3 1161.8 897.7 1162.5 897.7C1163.7 897.7 1164.8 897.8 1166.0 897.8C1173.3 898.2 1180.7 899.8 1188.0 901.0C1203.3 903.5 1218.7 907.2 1234.0 910.0C1253.0 913.5 1272.0 915.3 1291.0 920.0C1294.0 920.7 1297.0 922.0 1300.0 923.0C1306.7 925.3 1313.3 927.3 1320.0 930.0C1326.7 932.7 1333.3 937.2 1340.0 940.0C1353.3 945.6 1366.7 949.5 1380.0 954.0C1390.0 957.4 1400.0 959.4 1410.0 964.0C1416.7 967.1 1423.3 972.5 1430.0 978.0C1437.3 984.0 1444.7 990.6 1452.0 1000.0C1456.7 1006.0 1461.3 1019.0 1466.0 1024.0C1469.3 1027.6 1472.7 1029.1 1476.0 1032.0C1481.7 1036.9 1487.3 1048.0 1493.0 1048.0C1497.3 1048.0 1501.7 1032.7 1506.0 1026.0C1510.7 1018.8 1515.3 1011.1 1520.0 1006.0C1525.3 1000.2 1530.7 997.1 1536.0 992.0C1536.3 991.7 1536.7 991.0 1537.0 991.0C1544.3 991.0 1551.7 999.6 1559.0 1006.0C1565.3 1011.6 1571.7 1021.3 1578.0 1029.0C1584.3 1036.7 1590.7 1044.7 1597.0 1052.0C1603.3 1059.3 1609.7 1066.7 1616.0 1073.0C1622.3 1079.3 1628.7 1085.4 1635.0 1090.0C1641.7 1094.8 1648.3 1098.5 1655.0 1102.0C1661.3 1105.3 1667.7 1108.6 1674.0 1111.0C1680.3 1113.4 1686.7 1115.2 1693.0 1117.0C1702.3 1119.6 1711.7 1123.1 1721.0 1124.0C1732.7 1125.1 1744.3 1126.0 1756.0 1126.0C1766.7 1126.0 1777.3 1125.1 1788.0 1124.0C1797.7 1123.0 1807.3 1120.0 1817.0 1117.0C1823.3 1115.0 1829.7 1112.3 1836.0 1109.0C1842.3 1105.7 1848.7 1101.1 1855.0 1095.5C1860.0 1091.0 1865.0 1084.3 1870.0 1078.0C1874.7 1072.1 1879.3 1066.7 1884.0 1059.0C1887.7 1052.9 1891.3 1043.9 1895.0 1036.0C1898.2 1029.2 1901.3 1021.9 1904.5 1015.0C1904.7 1014.6 1904.8 1014.3 1905.0 1013.9C1905.5 1012.8 1906.0 1011.4 1906.5 1010.2C1907.0 1009.0 1907.5 1007.9 1908.0 1006.7C1908.5 1005.6 1909.0 1004.3 1909.5 1003.2C1910.0 1002.1 1910.5 1001.2 1911.0 1000.2C1911.5 999.2 1912.0 998.4 1912.5 997.3C1913.0 996.2 1913.5 994.3 1914.0 993.5C1914.5 992.6 1915.0 992.2 1915.5 991.4C1916.0 990.6 1916.5 989.3 1917.0 988.4C1917.5 987.6 1918.0 987.1 1918.5 986.2C1919.0 985.2 1919.5 983.3 1920.0 982.6C1920.5 981.9 1921.0 981.7 1921.5 981.1C1922.0 980.5 1922.5 979.6 1923.0 978.8C1923.5 977.9 1924.0 976.2 1924.5 975.8C1925.0 975.3 1925.5 975.3 1926.0 974.9C1926.5 974.5 1927.0 973.3 1927.5 972.6C1928.0 971.9 1928.5 971.1 1929.0 970.7C1929.5 970.3 1930.0 970.0 1930.5 969.7C1931.0 969.4 1931.5 969.3 1932.0 968.9C1932.5 968.5 1933.0 967.0 1933.5 966.8C1934.0 966.5 1934.5 966.5 1935.0 966.2C1935.5 966.0 1936.0 965.4 1936.5 964.9C1937.0 964.4 1937.5 963.9 1938.0 963.4C1938.5 962.9 1939.0 962.4 1939.5 961.9C1940.0 961.5 1940.5 961.0 1941.0 960.5C1941.5 960.1 1942.0 959.7 1942.5 959.2C1943.0 958.8 1943.5 958.4 1944.0 958.0C1944.5 957.5 1945.0 957.0 1945.5 956.6C1946.0 956.2 1946.5 956.1 1947.0 955.7C1947.5 955.4 1948.0 954.5 1948.5 954.1C1949.0 953.8 1949.5 953.7 1950.0 953.3C1950.5 952.9 1951.0 951.7 1951.5 951.5C1952.0 951.3 1952.5 951.3 1953.0 951.1C1953.5 950.9 1954.0 950.4 1954.5 949.9C1955.0 949.5 1955.5 948.6 1956.0 948.2C1956.5 947.9 1957.0 947.9 1957.5 947.5C1958.0 947.2 1958.5 946.4 1959.0 945.8C1959.5 945.2 1960.0 944.4 1960.5 944.0C1961.0 943.5 1961.5 943.0 1962.0 942.9C1962.5 942.7 1963.0 942.7 1963.5 942.6C1964.0 942.5 1964.5 942.4 1965.0 942.1C1965.5 941.8 1966.0 940.8 1966.5 940.3C1967.0 939.9 1967.5 939.6 1968.0 939.2C1968.5 938.8 1969.0 938.1 1969.5 938.1C1970.0 938.0 1970.5 938.0 1971.0 937.9C1971.5 937.9 1972.0 936.2 1972.5 936.1C1973.0 936.0 1973.5 936.0 1974.0 935.9C1974.5 935.8 1975.0 935.5 1975.5 935.2C1976.0 934.8 1976.5 934.2 1977.0 933.9C1977.5 933.6 1978.0 933.3 1978.5 933.0C1979.0 932.7 1979.5 932.2 1980.0 932.2C1980.5 932.2 1981.0 932.3 1981.5 932.3C1982.0 932.3 1982.5 932.2 1983.0 932.1C1983.5 932.0 1984.0 932.0 1984.5 931.8C1985.0 931.7 1985.5 931.4 1986.0 931.1C1986.5 930.8 1987.0 929.8 1987.5 929.6C1988.0 929.4 1988.5 929.4 1989.0 929.2C1989.5 929.0 1990.0 928.2 1990.5 928.2C1991.0 928.2 1991.5 928.5 1992.0 928.5C1992.5 928.5 1993.0 927.9 1993.5 927.6C1994.0 927.2 1994.5 926.3 1995.0 926.3C1995.5 926.3 1996.0 926.5 1996.5 926.5C1997.0 926.5 1997.5 926.4 1998.0 926.3C1998.5 926.2 1999.0 925.0 1999.5 924.7C2000.0 924.4 2000.5 924.0 2001.0 924.0C2001.5 924.0 2002.0 924.3 2002.5 924.3C2003.0 924.3 2003.5 924.2 2004.0 924.0C2004.5 923.9 2005.0 923.6 2005.5 923.3C2006.0 922.9 2006.5 921.7 2007.0 921.5C2007.5 921.4 2008.0 921.3 2008.5 921.2C2009.0 921.2 2009.5 921.1 2010.0 921.0C2010.5 920.9 2011.0 920.8 2011.5 920.6C2012.0 920.4 2012.5 919.3 2013.0 919.3C2013.5 919.3 2014.0 919.5 2014.5 919.5C2015.0 919.5 2015.5 919.4 2016.0 919.3C2016.5 919.2 2017.0 918.9 2017.5 918.5C2018.0 918.0 2018.5 914.2 2019.0 914.2C2019.5 914.2 2020.0 914.6 2020.5 915.2C2021.0 915.7 2021.5 920.2 2022.0 920.2C2022.5 920.2 2023.0 919.1 2023.5 918.2C2024.0 917.4 2024.5 914.9 2025.0 914.8C2025.5 914.7 2026.0 914.6 2026.5 914.6C2027.0 914.6 2027.5 915.0 2028.0 915.0C2028.5 915.0 2029.0 914.3 2029.5 914.3C2030.0 914.3 2030.5 914.9 2031.0 914.9C2031.5 914.9 2032.0 913.5 2032.5 913.3C2033.0 913.0 2033.5 912.7 2034.0 912.7C2034.5 912.7 2035.0 913.7 2035.5 913.7C2036.0 913.7 2036.5 912.2 2037.0 912.0C2037.5 911.8 2038.0 911.6 2038.5 911.6C2039.0 911.6 2039.5 912.2 2040.0 912.2C2040.5 912.2 2041.0 911.9 2041.5 911.7C2042.0 911.4 2042.5 910.8 2043.0 910.8C2043.5 910.8 2044.0 912.2 2044.5 912.2C2045.0 912.2 2045.5 911.4 2046.0 911.1C2046.5 910.9 2047.0 910.9 2047.5 910.6C2048.0 910.3 2048.5 909.1 2049.0 908.6C2049.5 908.2 2050.0 907.7 2050.5 907.7C2051.0 907.7 2051.5 909.9 2052.0 909.9C2052.5 909.9 2053.0 908.9 2053.5 908.7C2054.0 908.5 2054.5 908.5 2055.0 908.3C2055.5 908.1 2056.0 906.8 2056.5 906.8C2057.0 906.8 2057.5 907.2 2058.0 907.2C2058.5 907.2 2059.0 906.4 2059.5 906.3C2060.0 906.3 2060.5 906.3 2061.0 906.3C2061.5 906.3 2062.0 905.8 2062.5 905.8C2063.0 905.8 2063.5 906.2 2064.0 906.2C2064.5 906.2 2065.0 906.0 2065.5 905.7C2066.0 905.5 2066.5 904.7 2067.0 904.5C2067.5 904.2 2068.0 904.0 2068.5 904.0C2069.0 904.0 2069.5 904.9 2070.0 904.9C2070.5 904.9 2071.0 904.7 2071.5 904.6C2072.0 904.4 2072.5 903.1 2073.0 903.1C2073.5 903.1 2074.0 903.4 2074.5 903.4C2075.0 903.4 2075.5 903.2 2076.0 903.1C2076.5 902.9 2077.0 901.5 2077.5 901.4C2078.0 901.3 2078.5 901.3 2079.0 901.2C2079.5 901.2 2080.0 901.2 2080.5 901.1C2081.0 901.1 2081.5 900.9 2082.0 900.9C2082.5 900.9 2083.0 901.4 2083.5 901.4C2084.0 901.4 2084.5 899.8 2085.0 899.7C2085.5 899.6 2086.0 899.6 2086.5 899.5C2087.0 899.5 2087.5 899.2 2088.0 899.2C2088.5 899.2 2089.0 899.2 2089.5 899.2C2090.0 899.2 2090.5 898.4 2091.0 898.3C2091.5 898.1 2092.0 898.0 2092.5 898.0C2093.0 898.0 2093.5 898.8 2094.0 898.8C2094.5 898.8 2095.0 897.4 2095.5 897.2C2096.0 897.0 2096.5 896.9 2097.0 896.8C2097.5 896.7 2098.0 896.6 2098.5 896.6C2099.0 896.5 2099.5 896.5 2100.0 896.4C2100.5 896.3 2101.0 895.7 2101.5 895.6C2103.0 895.3 2104.5 895.2 2106.0 895.0" stroke="#FF9191"/>
</g>
<g stroke="#000" stroke-width="3.5" stroke-dasharray="9 6">
<line x1="252.0" y1="990" x2="252.0" y2="1220"/>
<line x1="303.0" y1="944" x2="303.0" y2="1058"/>
<line x1="345.0" y1="1013" x2="345.0" y2="1153"/>
<line x1="399.5" y1="1147" x2="399.5" y2="1246"/>
<line x1="436.0" y1="1125" x2="436.0" y2="1286"/>
<line x1="758.0" y1="1019" x2="758.0" y2="1098"/>
<line x1="1493.0" y1="1061" x2="1493.0" y2="1129"/>
<line x1="1755.5" y1="1135" x2="1755.5" y2="1220"/>
</g>
<g font-size="47" font-weight="bold" text-anchor="middle">
<text x="269.0" y="1264.5" transform="rotate(-90 269.0 1264.5)">765</text>
<text x="320.0" y="1097.0" transform="rotate(-90 320.0 1097.0)">854</text>
<text x="363.0" y="1190.0" transform="rotate(-90 363.0 1190.0)">927</text>
<text x="420.0" y="1296.5" transform="rotate(-90 420.0 1296.5)">1022</text>
<text x="456.0" y="1338.5" transform="rotate(-90 456.0 1338.5)">1085</text>
<text x="775.0" y="1152.5" transform="rotate(-90 775.0 1152.5)">1648</text>
<text x="1509.0" y="1182.0" transform="rotate(-90 1509.0 1182.0)">2930</text>
<text x="1773.0" y="1275.0" transform="rotate(-90 1773.0 1275.0)">3388</text>
</g>
<g stroke="#000" fill="none">
<line x1="40" y1="1402.3" x2="2109.5" y2="1402.3" stroke-width="6.6"/>
<g stroke-width="7">
<line x1="100.2" y1="1402" x2="100.2" y2="1429"/>
<line x1="673.4" y1="1402" x2="673.4" y2="1429"/>
<line x1="1246.5" y1="1402" x2="1246.5" y2="1429"/>
<line x1="1819.7" y1="1402" x2="1819.7" y2="1429"/>
<line x1="386.8" y1="1402" x2="386.8" y2="1415"/>
<line x1="960.0" y1="1402" x2="960.0" y2="1415"/>
<line x1="1533.1" y1="1402" x2="1533.1" y2="1415"/>
<line x1="2106.3" y1="1402" x2="2106.3" y2="1415"/>
</g>
</g>
<g font-size="60" font-weight="bold" text-anchor="middle">
<text x="100.2" y="1493">500</text>
<text x="673.4" y="1493">1500</text>
<text x="1246.5" y="1493">2500</text>
<text x="1819.7" y="1493">3500</text>
</g>
<g font-size="88">
<text x="2134.5" y="58.5">a</text>
<text x="2131.0" y="248.0">b</text>
<text x="2135.0" y="324.5">c</text>
<text x="2130.0" y="421.0">d</text>
<text x="2131.0" y="524.0">e</text>
<text x="2133.0" y="615.5">f</text>
<text x="2129.5" y="694.5">g</text>
<text x="2129.0" y="814.0">h</text>
<text x="2135.0" y="921.0">i</text>
</g>
<text y="1632" font-size="71.6"><tspan x="759" font-weight="bold">Wavenumber</tspan><tspan x="1190.7">(</tspan><tspan x="1214.4" font-weight="bold">cm</tspan><tspan x="1303.2" y="1609.5" font-size="64">&#8722;</tspan><tspan x="1336.75" y="1602.5" font-size="58" font-weight="bold">1</tspan><tspan x="1365.75" y="1632">)</tspan></text>
</svg>
</body></html>
